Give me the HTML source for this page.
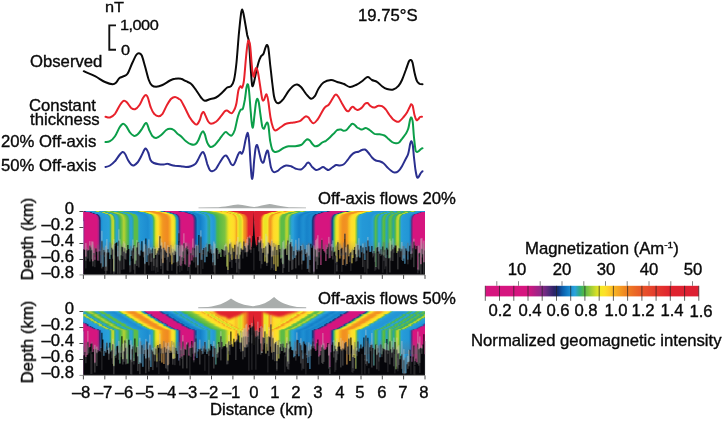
<!DOCTYPE html>
<html><head><meta charset="utf-8"><title>Figure</title>
<style>
html,body{margin:0;padding:0;background:#fff;}
body{width:724px;height:421px;position:relative;overflow:hidden;font-family:"Liberation Sans",sans-serif;}
.t{position:absolute;font-size:16px;line-height:18px;color:#0a0a0a;-webkit-text-stroke:0.35px #0a0a0a;white-space:nowrap;will-change:transform;}
.r{text-align:right}.c{text-align:center}
.rot{transform:rotate(-90deg);transform-origin:50% 50%;}
</style></head><body>
<svg width="724" height="421" viewBox="0 0 724 421" style="position:absolute;left:0;top:0">
<defs><linearGradient id="gl" gradientUnits="userSpaceOnUse" x1="23.4" x2="254.2" y1="0" y2="0"><stop offset="0.0000" stop-color="#4E2A78"/><stop offset="0.0065" stop-color="#4E2A78"/><stop offset="0.0130" stop-color="#4E2A78"/><stop offset="0.0195" stop-color="#4E2A78"/><stop offset="0.0260" stop-color="#4E2A78"/><stop offset="0.0325" stop-color="#4E2A78"/><stop offset="0.0390" stop-color="#4E2A78"/><stop offset="0.0455" stop-color="#4E2A78"/><stop offset="0.0520" stop-color="#4E2A78"/><stop offset="0.0585" stop-color="#4E2A78"/><stop offset="0.0650" stop-color="#4E2A78"/><stop offset="0.0715" stop-color="#4E2A78"/><stop offset="0.0780" stop-color="#4E2A78"/><stop offset="0.0845" stop-color="#4E2A78"/><stop offset="0.0910" stop-color="#4E2A78"/><stop offset="0.0975" stop-color="#4E2A78"/><stop offset="0.1040" stop-color="#4E2A78"/><stop offset="0.1105" stop-color="#4E2A78"/><stop offset="0.1170" stop-color="#4E2A78"/><stop offset="0.1235" stop-color="#4E2A78"/><stop offset="0.1300" stop-color="#4E2A78"/><stop offset="0.1365" stop-color="#4E2A78"/><stop offset="0.1430" stop-color="#4E2A78"/><stop offset="0.1495" stop-color="#4E2A78"/><stop offset="0.1560" stop-color="#4E2A78"/><stop offset="0.1625" stop-color="#4E2A78"/><stop offset="0.1690" stop-color="#4E2A78"/><stop offset="0.1755" stop-color="#4E2A78"/><stop offset="0.1820" stop-color="#4E2A78"/><stop offset="0.1885" stop-color="#4E2A78"/><stop offset="0.1950" stop-color="#4E2A78"/><stop offset="0.2015" stop-color="#4E2A78"/><stop offset="0.2080" stop-color="#4E2A78"/><stop offset="0.2145" stop-color="#4E2A78"/><stop offset="0.2210" stop-color="#4E2A78"/><stop offset="0.2275" stop-color="#4E2A78"/><stop offset="0.2340" stop-color="#4E2A78"/><stop offset="0.2405" stop-color="#4E2A78"/><stop offset="0.2470" stop-color="#4E2A78"/><stop offset="0.2535" stop-color="#4E2A78"/><stop offset="0.2600" stop-color="#772A83"/><stop offset="0.2665" stop-color="#D6157F"/><stop offset="0.2730" stop-color="#D6157F"/><stop offset="0.2795" stop-color="#D6157F"/><stop offset="0.2860" stop-color="#D6157F"/><stop offset="0.2925" stop-color="#D6157F"/><stop offset="0.2990" stop-color="#D6157F"/><stop offset="0.3055" stop-color="#D6157F"/><stop offset="0.3120" stop-color="#D6157F"/><stop offset="0.3185" stop-color="#D6157F"/><stop offset="0.3250" stop-color="#AD2085"/><stop offset="0.3315" stop-color="#232162"/><stop offset="0.3380" stop-color="#1E8FD2"/><stop offset="0.3445" stop-color="#259AD8"/><stop offset="0.3510" stop-color="#269CD8"/><stop offset="0.3575" stop-color="#279DD9"/><stop offset="0.3640" stop-color="#289FDA"/><stop offset="0.3705" stop-color="#29A0DB"/><stop offset="0.3769" stop-color="#2EA799"/><stop offset="0.3834" stop-color="#B1D333"/><stop offset="0.3899" stop-color="#C7DA2C"/><stop offset="0.3964" stop-color="#36AC7A"/><stop offset="0.4029" stop-color="#2CA4CE"/><stop offset="0.4094" stop-color="#2CA4C4"/><stop offset="0.4159" stop-color="#37AC78"/><stop offset="0.4224" stop-color="#5ABB46"/><stop offset="0.4289" stop-color="#89C53F"/><stop offset="0.4354" stop-color="#B7D531"/><stop offset="0.4419" stop-color="#8FC73E"/><stop offset="0.4484" stop-color="#66BD44"/><stop offset="0.4549" stop-color="#45B45A"/><stop offset="0.4614" stop-color="#2CA4CC"/><stop offset="0.4679" stop-color="#2CA4D2"/><stop offset="0.4744" stop-color="#2DA6A9"/><stop offset="0.4809" stop-color="#5DBC46"/><stop offset="0.4874" stop-color="#5DBC46"/><stop offset="0.4939" stop-color="#5DBC46"/><stop offset="0.5004" stop-color="#2CA5C1"/><stop offset="0.5069" stop-color="#2498D6"/><stop offset="0.5134" stop-color="#2296D5"/><stop offset="0.5199" stop-color="#2193D4"/><stop offset="0.5264" stop-color="#1F91D3"/><stop offset="0.5329" stop-color="#1E8FD2"/><stop offset="0.5394" stop-color="#1C8CD0"/><stop offset="0.5459" stop-color="#2194D4"/><stop offset="0.5524" stop-color="#269CD8"/><stop offset="0.5589" stop-color="#2CA4C7"/><stop offset="0.5654" stop-color="#56BA47"/><stop offset="0.5719" stop-color="#C9DB2B"/><stop offset="0.5784" stop-color="#F7E625"/><stop offset="0.5849" stop-color="#FFDD2B"/><stop offset="0.5914" stop-color="#FBC125"/><stop offset="0.5979" stop-color="#F6AA22"/><stop offset="0.6044" stop-color="#F29621"/><stop offset="0.6109" stop-color="#F19121"/><stop offset="0.6174" stop-color="#F18D21"/><stop offset="0.6239" stop-color="#F08A22"/><stop offset="0.6304" stop-color="#F39921"/><stop offset="0.6369" stop-color="#F9B423"/><stop offset="0.6434" stop-color="#FDDF2A"/><stop offset="0.6499" stop-color="#FAE327"/><stop offset="0.6564" stop-color="#D7DF29"/><stop offset="0.6629" stop-color="#2EA79C"/><stop offset="0.6694" stop-color="#1784CB"/><stop offset="0.6759" stop-color="#542A79"/><stop offset="0.6824" stop-color="#CA1881"/><stop offset="0.6889" stop-color="#D6157F"/><stop offset="0.6954" stop-color="#D6157F"/><stop offset="0.7019" stop-color="#D6157F"/><stop offset="0.7084" stop-color="#D6157F"/><stop offset="0.7149" stop-color="#D6157F"/><stop offset="0.7214" stop-color="#D6157F"/><stop offset="0.7279" stop-color="#D6157F"/><stop offset="0.7344" stop-color="#D6157F"/><stop offset="0.7409" stop-color="#682A7F"/><stop offset="0.7474" stop-color="#0C4C9A"/><stop offset="0.7539" stop-color="#1885CB"/><stop offset="0.7604" stop-color="#1581C8"/><stop offset="0.7669" stop-color="#147FC8"/><stop offset="0.7734" stop-color="#1987CD"/><stop offset="0.7799" stop-color="#1E8ED2"/><stop offset="0.7864" stop-color="#2397D6"/><stop offset="0.7929" stop-color="#2AA1DB"/><stop offset="0.7994" stop-color="#2DA6AB"/><stop offset="0.8059" stop-color="#2FA88A"/><stop offset="0.8124" stop-color="#2BA2DC"/><stop offset="0.8189" stop-color="#279ED9"/><stop offset="0.8254" stop-color="#2599D7"/><stop offset="0.8319" stop-color="#2DA5B4"/><stop offset="0.8384" stop-color="#45B459"/><stop offset="0.8449" stop-color="#4EB848"/><stop offset="0.8514" stop-color="#5CBB46"/><stop offset="0.8579" stop-color="#66BD44"/><stop offset="0.8644" stop-color="#6FC043"/><stop offset="0.8709" stop-color="#78C242"/><stop offset="0.8774" stop-color="#98CA3B"/><stop offset="0.8839" stop-color="#C8DB2B"/><stop offset="0.8904" stop-color="#F0E725"/><stop offset="0.8969" stop-color="#F9E327"/><stop offset="0.9034" stop-color="#FDE029"/><stop offset="0.9099" stop-color="#FFDB2A"/><stop offset="0.9164" stop-color="#FDD129"/><stop offset="0.9229" stop-color="#F5A422"/><stop offset="0.9294" stop-color="#FAE228"/><stop offset="0.9359" stop-color="#D4DE29"/><stop offset="0.9424" stop-color="#D4DE29"/><stop offset="0.9489" stop-color="#FDE029"/><stop offset="0.9554" stop-color="#F39921"/><stop offset="0.9619" stop-color="#F08722"/><stop offset="0.9684" stop-color="#E95E28"/><stop offset="0.9749" stop-color="#E0232F"/><stop offset="0.9814" stop-color="#DE2131"/><stop offset="0.9879" stop-color="#DE2131"/><stop offset="0.9944" stop-color="#DD2132"/><stop offset="1.0000" stop-color="#DD2032"/></linearGradient>
<linearGradient id="gr" gradientUnits="userSpaceOnUse" x1="254.2" x2="485.0" y1="0" y2="0"><stop offset="0.0000" stop-color="#DD2032"/><stop offset="0.0065" stop-color="#DD2132"/><stop offset="0.0130" stop-color="#DE2131"/><stop offset="0.0195" stop-color="#DE2131"/><stop offset="0.0260" stop-color="#E22F2E"/><stop offset="0.0325" stop-color="#F08922"/><stop offset="0.0390" stop-color="#FAE228"/><stop offset="0.0455" stop-color="#EAE526"/><stop offset="0.0520" stop-color="#EAE526"/><stop offset="0.0585" stop-color="#F9E327"/><stop offset="0.0650" stop-color="#F49D21"/><stop offset="0.0715" stop-color="#F39721"/><stop offset="0.0780" stop-color="#FABE25"/><stop offset="0.0845" stop-color="#FFDA2A"/><stop offset="0.0910" stop-color="#FEDE2A"/><stop offset="0.0975" stop-color="#FCE129"/><stop offset="0.1040" stop-color="#F7E625"/><stop offset="0.1105" stop-color="#93C83D"/><stop offset="0.1170" stop-color="#5DBC46"/><stop offset="0.1235" stop-color="#5DBC46"/><stop offset="0.1300" stop-color="#5DBC46"/><stop offset="0.1365" stop-color="#A7CF36"/><stop offset="0.1430" stop-color="#BAD630"/><stop offset="0.1495" stop-color="#70C043"/><stop offset="0.1560" stop-color="#2EA7A0"/><stop offset="0.1625" stop-color="#2CA4D1"/><stop offset="0.1690" stop-color="#29A0DA"/><stop offset="0.1755" stop-color="#2193D4"/><stop offset="0.1820" stop-color="#1C8BD0"/><stop offset="0.1885" stop-color="#1784CB"/><stop offset="0.1950" stop-color="#147EC7"/><stop offset="0.2015" stop-color="#1886CC"/><stop offset="0.2080" stop-color="#1D8DD1"/><stop offset="0.2145" stop-color="#1E8FD2"/><stop offset="0.2210" stop-color="#1A89CE"/><stop offset="0.2275" stop-color="#1783CA"/><stop offset="0.2340" stop-color="#1885CC"/><stop offset="0.2405" stop-color="#1A89CE"/><stop offset="0.2470" stop-color="#1A89CE"/><stop offset="0.2535" stop-color="#153074"/><stop offset="0.2600" stop-color="#722A82"/><stop offset="0.2665" stop-color="#D6157F"/><stop offset="0.2730" stop-color="#D6157F"/><stop offset="0.2795" stop-color="#D6157F"/><stop offset="0.2860" stop-color="#D6157F"/><stop offset="0.2925" stop-color="#D6157F"/><stop offset="0.2990" stop-color="#D6157F"/><stop offset="0.3055" stop-color="#D6157F"/><stop offset="0.3120" stop-color="#D6157F"/><stop offset="0.3185" stop-color="#D6157F"/><stop offset="0.3250" stop-color="#D6157F"/><stop offset="0.3315" stop-color="#A12386"/><stop offset="0.3380" stop-color="#103F89"/><stop offset="0.3445" stop-color="#39AD74"/><stop offset="0.3510" stop-color="#BAD630"/><stop offset="0.3575" stop-color="#F7E625"/><stop offset="0.3640" stop-color="#FED82A"/><stop offset="0.3705" stop-color="#F8B123"/><stop offset="0.3769" stop-color="#F4A021"/><stop offset="0.3834" stop-color="#F29121"/><stop offset="0.3899" stop-color="#F19021"/><stop offset="0.3964" stop-color="#F29221"/><stop offset="0.4029" stop-color="#F39921"/><stop offset="0.4094" stop-color="#FABC24"/><stop offset="0.4159" stop-color="#FDD229"/><stop offset="0.4224" stop-color="#FEDF2A"/><stop offset="0.4289" stop-color="#FBE228"/><stop offset="0.4354" stop-color="#F8E526"/><stop offset="0.4419" stop-color="#9BCB3A"/><stop offset="0.4484" stop-color="#2DA6AB"/><stop offset="0.4549" stop-color="#2AA2DB"/><stop offset="0.4614" stop-color="#279DD9"/><stop offset="0.4679" stop-color="#2599D7"/><stop offset="0.4744" stop-color="#2498D7"/><stop offset="0.4809" stop-color="#2497D6"/><stop offset="0.4874" stop-color="#2397D6"/><stop offset="0.4939" stop-color="#2396D5"/><stop offset="0.5004" stop-color="#2295D5"/><stop offset="0.5069" stop-color="#2599D7"/><stop offset="0.5134" stop-color="#289FDA"/><stop offset="0.5199" stop-color="#2FA891"/><stop offset="0.5264" stop-color="#5DBC46"/><stop offset="0.5329" stop-color="#36AC7A"/><stop offset="0.5394" stop-color="#2BA3D6"/><stop offset="0.5459" stop-color="#2BA3DC"/><stop offset="0.5524" stop-color="#2FA891"/><stop offset="0.5589" stop-color="#5DBC46"/><stop offset="0.5654" stop-color="#50B948"/><stop offset="0.5719" stop-color="#2DA5BB"/><stop offset="0.5784" stop-color="#2FA792"/><stop offset="0.5849" stop-color="#5DBB46"/><stop offset="0.5914" stop-color="#63BD45"/><stop offset="0.5979" stop-color="#3BAE70"/><stop offset="0.6044" stop-color="#2EA79A"/><stop offset="0.6109" stop-color="#4CB849"/><stop offset="0.6174" stop-color="#AED234"/><stop offset="0.6239" stop-color="#C4D92D"/><stop offset="0.6304" stop-color="#45B45A"/><stop offset="0.6369" stop-color="#2AA1DB"/><stop offset="0.6434" stop-color="#269CD9"/><stop offset="0.6499" stop-color="#259AD8"/><stop offset="0.6564" stop-color="#2499D7"/><stop offset="0.6629" stop-color="#2397D6"/><stop offset="0.6694" stop-color="#2296D5"/><stop offset="0.6759" stop-color="#1581C9"/><stop offset="0.6824" stop-color="#662A7E"/><stop offset="0.6889" stop-color="#D6157F"/><stop offset="0.6954" stop-color="#D6157F"/><stop offset="0.7019" stop-color="#D6157F"/><stop offset="0.7084" stop-color="#D6157F"/><stop offset="0.7149" stop-color="#D6157F"/><stop offset="0.7214" stop-color="#D6157F"/><stop offset="0.7279" stop-color="#D6157F"/><stop offset="0.7344" stop-color="#D6157F"/><stop offset="0.7409" stop-color="#D6157F"/><stop offset="0.7474" stop-color="#D6157F"/><stop offset="0.7539" stop-color="#D6157F"/><stop offset="0.7604" stop-color="#D6157F"/><stop offset="0.7669" stop-color="#D6157F"/><stop offset="0.7734" stop-color="#D6157F"/><stop offset="0.7799" stop-color="#D6157F"/><stop offset="0.7864" stop-color="#D6157F"/><stop offset="0.7929" stop-color="#D6157F"/><stop offset="0.7994" stop-color="#D6157F"/><stop offset="0.8059" stop-color="#D6157F"/><stop offset="0.8124" stop-color="#D6157F"/><stop offset="0.8189" stop-color="#D6157F"/><stop offset="0.8254" stop-color="#D6157F"/><stop offset="0.8319" stop-color="#D6157F"/><stop offset="0.8384" stop-color="#D6157F"/><stop offset="0.8449" stop-color="#D6157F"/><stop offset="0.8514" stop-color="#D6157F"/><stop offset="0.8579" stop-color="#D6157F"/><stop offset="0.8644" stop-color="#D6157F"/><stop offset="0.8709" stop-color="#D6157F"/><stop offset="0.8774" stop-color="#D6157F"/><stop offset="0.8839" stop-color="#D6157F"/><stop offset="0.8904" stop-color="#D6157F"/><stop offset="0.8969" stop-color="#D6157F"/><stop offset="0.9034" stop-color="#D6157F"/><stop offset="0.9099" stop-color="#D6157F"/><stop offset="0.9164" stop-color="#D6157F"/><stop offset="0.9229" stop-color="#D6157F"/><stop offset="0.9294" stop-color="#D6157F"/><stop offset="0.9359" stop-color="#D6157F"/><stop offset="0.9424" stop-color="#D6157F"/><stop offset="0.9489" stop-color="#D6157F"/><stop offset="0.9554" stop-color="#D6157F"/><stop offset="0.9619" stop-color="#D6157F"/><stop offset="0.9684" stop-color="#D6157F"/><stop offset="0.9749" stop-color="#D6157F"/><stop offset="0.9814" stop-color="#D6157F"/><stop offset="0.9879" stop-color="#D6157F"/><stop offset="0.9944" stop-color="#D6157F"/><stop offset="1.0000" stop-color="#D6157F"/></linearGradient>
<linearGradient id="hl" gradientUnits="userSpaceOnUse" x1="23.4" x2="254.2" y1="0" y2="0"><stop offset="0.0000" stop-color="#4E2A78"/><stop offset="0.0065" stop-color="#4E2A78"/><stop offset="0.0130" stop-color="#4E2A78"/><stop offset="0.0195" stop-color="#4E2A78"/><stop offset="0.0260" stop-color="#4E2A78"/><stop offset="0.0325" stop-color="#4E2A78"/><stop offset="0.0390" stop-color="#4E2A78"/><stop offset="0.0455" stop-color="#4E2A78"/><stop offset="0.0520" stop-color="#4E2A78"/><stop offset="0.0585" stop-color="#4E2A78"/><stop offset="0.0650" stop-color="#4E2A78"/><stop offset="0.0715" stop-color="#4E2A78"/><stop offset="0.0780" stop-color="#4E2A78"/><stop offset="0.0845" stop-color="#4E2A78"/><stop offset="0.0910" stop-color="#4E2A78"/><stop offset="0.0975" stop-color="#4E2A78"/><stop offset="0.1040" stop-color="#4E2A78"/><stop offset="0.1105" stop-color="#4E2A78"/><stop offset="0.1170" stop-color="#4E2A78"/><stop offset="0.1235" stop-color="#4E2A78"/><stop offset="0.1300" stop-color="#4E2A78"/><stop offset="0.1365" stop-color="#4E2A78"/><stop offset="0.1430" stop-color="#4E2A78"/><stop offset="0.1495" stop-color="#4E2A78"/><stop offset="0.1560" stop-color="#4E2A78"/><stop offset="0.1625" stop-color="#4E2A78"/><stop offset="0.1690" stop-color="#4E2A78"/><stop offset="0.1755" stop-color="#4E2A78"/><stop offset="0.1820" stop-color="#4E2A78"/><stop offset="0.1885" stop-color="#4E2A78"/><stop offset="0.1950" stop-color="#4E2A78"/><stop offset="0.2015" stop-color="#4E2A78"/><stop offset="0.2080" stop-color="#4E2A78"/><stop offset="0.2145" stop-color="#4E2A78"/><stop offset="0.2210" stop-color="#4E2A78"/><stop offset="0.2275" stop-color="#4E2A78"/><stop offset="0.2340" stop-color="#4E2A78"/><stop offset="0.2405" stop-color="#4E2A78"/><stop offset="0.2470" stop-color="#4E2A78"/><stop offset="0.2535" stop-color="#4E2A78"/><stop offset="0.2600" stop-color="#772A83"/><stop offset="0.2665" stop-color="#D6157F"/><stop offset="0.2730" stop-color="#D6157F"/><stop offset="0.2795" stop-color="#D6157F"/><stop offset="0.2860" stop-color="#D6157F"/><stop offset="0.2925" stop-color="#D6157F"/><stop offset="0.2990" stop-color="#D6157F"/><stop offset="0.3055" stop-color="#D6157F"/><stop offset="0.3120" stop-color="#D6157F"/><stop offset="0.3185" stop-color="#D6157F"/><stop offset="0.3250" stop-color="#AD2085"/><stop offset="0.3315" stop-color="#232162"/><stop offset="0.3380" stop-color="#1E8FD2"/><stop offset="0.3445" stop-color="#259AD8"/><stop offset="0.3510" stop-color="#269CD8"/><stop offset="0.3575" stop-color="#279DD9"/><stop offset="0.3640" stop-color="#289FDA"/><stop offset="0.3705" stop-color="#29A0DB"/><stop offset="0.3769" stop-color="#2EA799"/><stop offset="0.3834" stop-color="#B1D333"/><stop offset="0.3899" stop-color="#C7DA2C"/><stop offset="0.3964" stop-color="#36AC7A"/><stop offset="0.4029" stop-color="#2CA4CE"/><stop offset="0.4094" stop-color="#2CA4C4"/><stop offset="0.4159" stop-color="#37AC78"/><stop offset="0.4224" stop-color="#5ABB46"/><stop offset="0.4289" stop-color="#89C53F"/><stop offset="0.4354" stop-color="#B7D531"/><stop offset="0.4419" stop-color="#8FC73E"/><stop offset="0.4484" stop-color="#66BD44"/><stop offset="0.4549" stop-color="#45B45A"/><stop offset="0.4614" stop-color="#2CA4CC"/><stop offset="0.4679" stop-color="#2CA4D2"/><stop offset="0.4744" stop-color="#2DA6A9"/><stop offset="0.4809" stop-color="#5DBC46"/><stop offset="0.4874" stop-color="#5DBC46"/><stop offset="0.4939" stop-color="#5DBC46"/><stop offset="0.5004" stop-color="#2CA5C1"/><stop offset="0.5069" stop-color="#2498D6"/><stop offset="0.5134" stop-color="#2296D5"/><stop offset="0.5199" stop-color="#2193D4"/><stop offset="0.5264" stop-color="#1F91D3"/><stop offset="0.5329" stop-color="#1E8FD2"/><stop offset="0.5394" stop-color="#1C8CD0"/><stop offset="0.5459" stop-color="#2194D4"/><stop offset="0.5524" stop-color="#269CD8"/><stop offset="0.5589" stop-color="#2CA4C7"/><stop offset="0.5654" stop-color="#56BA47"/><stop offset="0.5719" stop-color="#C9DB2B"/><stop offset="0.5784" stop-color="#F7E625"/><stop offset="0.5849" stop-color="#FFDD2B"/><stop offset="0.5914" stop-color="#FBC125"/><stop offset="0.5979" stop-color="#F6AA22"/><stop offset="0.6044" stop-color="#F29621"/><stop offset="0.6109" stop-color="#F19121"/><stop offset="0.6174" stop-color="#F18D21"/><stop offset="0.6239" stop-color="#F08A22"/><stop offset="0.6304" stop-color="#F39921"/><stop offset="0.6369" stop-color="#F9B423"/><stop offset="0.6434" stop-color="#FDDF2A"/><stop offset="0.6499" stop-color="#FAE327"/><stop offset="0.6564" stop-color="#D7DF29"/><stop offset="0.6629" stop-color="#2EA79C"/><stop offset="0.6694" stop-color="#1784CB"/><stop offset="0.6759" stop-color="#542A79"/><stop offset="0.6824" stop-color="#CA1881"/><stop offset="0.6889" stop-color="#D6157F"/><stop offset="0.6954" stop-color="#D6157F"/><stop offset="0.7019" stop-color="#D6157F"/><stop offset="0.7084" stop-color="#D6157F"/><stop offset="0.7149" stop-color="#D6157F"/><stop offset="0.7214" stop-color="#D6157F"/><stop offset="0.7279" stop-color="#D6157F"/><stop offset="0.7344" stop-color="#D6157F"/><stop offset="0.7409" stop-color="#682A7F"/><stop offset="0.7474" stop-color="#0C4C9A"/><stop offset="0.7539" stop-color="#1885CB"/><stop offset="0.7604" stop-color="#1581C8"/><stop offset="0.7669" stop-color="#147FC8"/><stop offset="0.7734" stop-color="#1987CD"/><stop offset="0.7799" stop-color="#1E8ED2"/><stop offset="0.7864" stop-color="#2397D6"/><stop offset="0.7929" stop-color="#2AA1DB"/><stop offset="0.7994" stop-color="#2DA6AB"/><stop offset="0.8059" stop-color="#2FA88A"/><stop offset="0.8124" stop-color="#2BA2DC"/><stop offset="0.8189" stop-color="#279ED9"/><stop offset="0.8254" stop-color="#2599D7"/><stop offset="0.8319" stop-color="#2DA5B4"/><stop offset="0.8384" stop-color="#45B459"/><stop offset="0.8449" stop-color="#4EB848"/><stop offset="0.8514" stop-color="#5CBB46"/><stop offset="0.8579" stop-color="#66BD44"/><stop offset="0.8644" stop-color="#6FC043"/><stop offset="0.8709" stop-color="#78C242"/><stop offset="0.8774" stop-color="#98CA3B"/><stop offset="0.8839" stop-color="#C8DB2B"/><stop offset="0.8904" stop-color="#F0E725"/><stop offset="0.8969" stop-color="#F9E327"/><stop offset="0.9034" stop-color="#FDE029"/><stop offset="0.9099" stop-color="#FFDB2A"/><stop offset="0.9164" stop-color="#FDD129"/><stop offset="0.9229" stop-color="#F5A422"/><stop offset="0.9294" stop-color="#FAE228"/><stop offset="0.9359" stop-color="#D4DE29"/><stop offset="0.9424" stop-color="#D4DE29"/><stop offset="0.9489" stop-color="#FDE029" stop-opacity="0.94"/><stop offset="0.9554" stop-color="#F39921" stop-opacity="0.51"/><stop offset="0.9619" stop-color="#F08722" stop-opacity="0.09"/><stop offset="0.9684" stop-color="#E95E28" stop-opacity="0.00"/><stop offset="0.9749" stop-color="#E0232F" stop-opacity="0.00"/><stop offset="0.9814" stop-color="#DE2131" stop-opacity="0.00"/><stop offset="0.9879" stop-color="#DE2131" stop-opacity="0.00"/><stop offset="0.9944" stop-color="#DD2132" stop-opacity="0.00"/><stop offset="1.0000" stop-color="#DD2032" stop-opacity="0.00"/></linearGradient>
<linearGradient id="hr" gradientUnits="userSpaceOnUse" x1="254.2" x2="485.0" y1="0" y2="0"><stop offset="0.0000" stop-color="#DD2032" stop-opacity="0.00"/><stop offset="0.0065" stop-color="#DD2132" stop-opacity="0.00"/><stop offset="0.0130" stop-color="#DE2131" stop-opacity="0.00"/><stop offset="0.0195" stop-color="#DE2131" stop-opacity="0.00"/><stop offset="0.0260" stop-color="#E22F2E" stop-opacity="0.00"/><stop offset="0.0325" stop-color="#F08922" stop-opacity="0.00"/><stop offset="0.0390" stop-color="#FAE228" stop-opacity="0.14"/><stop offset="0.0455" stop-color="#EAE526" stop-opacity="0.57"/><stop offset="0.0520" stop-color="#EAE526"/><stop offset="0.0585" stop-color="#F9E327"/><stop offset="0.0650" stop-color="#F49D21"/><stop offset="0.0715" stop-color="#F39721"/><stop offset="0.0780" stop-color="#FABE25"/><stop offset="0.0845" stop-color="#FFDA2A"/><stop offset="0.0910" stop-color="#FEDE2A"/><stop offset="0.0975" stop-color="#FCE129"/><stop offset="0.1040" stop-color="#F7E625"/><stop offset="0.1105" stop-color="#93C83D"/><stop offset="0.1170" stop-color="#5DBC46"/><stop offset="0.1235" stop-color="#5DBC46"/><stop offset="0.1300" stop-color="#5DBC46"/><stop offset="0.1365" stop-color="#A7CF36"/><stop offset="0.1430" stop-color="#BAD630"/><stop offset="0.1495" stop-color="#70C043"/><stop offset="0.1560" stop-color="#2EA7A0"/><stop offset="0.1625" stop-color="#2CA4D1"/><stop offset="0.1690" stop-color="#29A0DA"/><stop offset="0.1755" stop-color="#2193D4"/><stop offset="0.1820" stop-color="#1C8BD0"/><stop offset="0.1885" stop-color="#1784CB"/><stop offset="0.1950" stop-color="#147EC7"/><stop offset="0.2015" stop-color="#1886CC"/><stop offset="0.2080" stop-color="#1D8DD1"/><stop offset="0.2145" stop-color="#1E8FD2"/><stop offset="0.2210" stop-color="#1A89CE"/><stop offset="0.2275" stop-color="#1783CA"/><stop offset="0.2340" stop-color="#1885CC"/><stop offset="0.2405" stop-color="#1A89CE"/><stop offset="0.2470" stop-color="#1A89CE"/><stop offset="0.2535" stop-color="#153074"/><stop offset="0.2600" stop-color="#722A82"/><stop offset="0.2665" stop-color="#D6157F"/><stop offset="0.2730" stop-color="#D6157F"/><stop offset="0.2795" stop-color="#D6157F"/><stop offset="0.2860" stop-color="#D6157F"/><stop offset="0.2925" stop-color="#D6157F"/><stop offset="0.2990" stop-color="#D6157F"/><stop offset="0.3055" stop-color="#D6157F"/><stop offset="0.3120" stop-color="#D6157F"/><stop offset="0.3185" stop-color="#D6157F"/><stop offset="0.3250" stop-color="#D6157F"/><stop offset="0.3315" stop-color="#A12386"/><stop offset="0.3380" stop-color="#103F89"/><stop offset="0.3445" stop-color="#39AD74"/><stop offset="0.3510" stop-color="#BAD630"/><stop offset="0.3575" stop-color="#F7E625"/><stop offset="0.3640" stop-color="#FED82A"/><stop offset="0.3705" stop-color="#F8B123"/><stop offset="0.3769" stop-color="#F4A021"/><stop offset="0.3834" stop-color="#F29121"/><stop offset="0.3899" stop-color="#F19021"/><stop offset="0.3964" stop-color="#F29221"/><stop offset="0.4029" stop-color="#F39921"/><stop offset="0.4094" stop-color="#FABC24"/><stop offset="0.4159" stop-color="#FDD229"/><stop offset="0.4224" stop-color="#FEDF2A"/><stop offset="0.4289" stop-color="#FBE228"/><stop offset="0.4354" stop-color="#F8E526"/><stop offset="0.4419" stop-color="#9BCB3A"/><stop offset="0.4484" stop-color="#2DA6AB"/><stop offset="0.4549" stop-color="#2AA2DB"/><stop offset="0.4614" stop-color="#279DD9"/><stop offset="0.4679" stop-color="#2599D7"/><stop offset="0.4744" stop-color="#2498D7"/><stop offset="0.4809" stop-color="#2497D6"/><stop offset="0.4874" stop-color="#2397D6"/><stop offset="0.4939" stop-color="#2396D5"/><stop offset="0.5004" stop-color="#2295D5"/><stop offset="0.5069" stop-color="#2599D7"/><stop offset="0.5134" stop-color="#289FDA"/><stop offset="0.5199" stop-color="#2FA891"/><stop offset="0.5264" stop-color="#5DBC46"/><stop offset="0.5329" stop-color="#36AC7A"/><stop offset="0.5394" stop-color="#2BA3D6"/><stop offset="0.5459" stop-color="#2BA3DC"/><stop offset="0.5524" stop-color="#2FA891"/><stop offset="0.5589" stop-color="#5DBC46"/><stop offset="0.5654" stop-color="#50B948"/><stop offset="0.5719" stop-color="#2DA5BB"/><stop offset="0.5784" stop-color="#2FA792"/><stop offset="0.5849" stop-color="#5DBB46"/><stop offset="0.5914" stop-color="#63BD45"/><stop offset="0.5979" stop-color="#3BAE70"/><stop offset="0.6044" stop-color="#2EA79A"/><stop offset="0.6109" stop-color="#4CB849"/><stop offset="0.6174" stop-color="#AED234"/><stop offset="0.6239" stop-color="#C4D92D"/><stop offset="0.6304" stop-color="#45B45A"/><stop offset="0.6369" stop-color="#2AA1DB"/><stop offset="0.6434" stop-color="#269CD9"/><stop offset="0.6499" stop-color="#259AD8"/><stop offset="0.6564" stop-color="#2499D7"/><stop offset="0.6629" stop-color="#2397D6"/><stop offset="0.6694" stop-color="#2296D5"/><stop offset="0.6759" stop-color="#1581C9"/><stop offset="0.6824" stop-color="#662A7E"/><stop offset="0.6889" stop-color="#D6157F"/><stop offset="0.6954" stop-color="#D6157F"/><stop offset="0.7019" stop-color="#D6157F"/><stop offset="0.7084" stop-color="#D6157F"/><stop offset="0.7149" stop-color="#D6157F"/><stop offset="0.7214" stop-color="#D6157F"/><stop offset="0.7279" stop-color="#D6157F"/><stop offset="0.7344" stop-color="#D6157F"/><stop offset="0.7409" stop-color="#D6157F"/><stop offset="0.7474" stop-color="#D6157F"/><stop offset="0.7539" stop-color="#D6157F"/><stop offset="0.7604" stop-color="#D6157F"/><stop offset="0.7669" stop-color="#D6157F"/><stop offset="0.7734" stop-color="#D6157F"/><stop offset="0.7799" stop-color="#D6157F"/><stop offset="0.7864" stop-color="#D6157F"/><stop offset="0.7929" stop-color="#D6157F"/><stop offset="0.7994" stop-color="#D6157F"/><stop offset="0.8059" stop-color="#D6157F"/><stop offset="0.8124" stop-color="#D6157F"/><stop offset="0.8189" stop-color="#D6157F"/><stop offset="0.8254" stop-color="#D6157F"/><stop offset="0.8319" stop-color="#D6157F"/><stop offset="0.8384" stop-color="#D6157F"/><stop offset="0.8449" stop-color="#D6157F"/><stop offset="0.8514" stop-color="#D6157F"/><stop offset="0.8579" stop-color="#D6157F"/><stop offset="0.8644" stop-color="#D6157F"/><stop offset="0.8709" stop-color="#D6157F"/><stop offset="0.8774" stop-color="#D6157F"/><stop offset="0.8839" stop-color="#D6157F"/><stop offset="0.8904" stop-color="#D6157F"/><stop offset="0.8969" stop-color="#D6157F"/><stop offset="0.9034" stop-color="#D6157F"/><stop offset="0.9099" stop-color="#D6157F"/><stop offset="0.9164" stop-color="#D6157F"/><stop offset="0.9229" stop-color="#D6157F"/><stop offset="0.9294" stop-color="#D6157F"/><stop offset="0.9359" stop-color="#D6157F"/><stop offset="0.9424" stop-color="#D6157F"/><stop offset="0.9489" stop-color="#D6157F"/><stop offset="0.9554" stop-color="#D6157F"/><stop offset="0.9619" stop-color="#D6157F"/><stop offset="0.9684" stop-color="#D6157F"/><stop offset="0.9749" stop-color="#D6157F"/><stop offset="0.9814" stop-color="#D6157F"/><stop offset="0.9879" stop-color="#D6157F"/><stop offset="0.9944" stop-color="#D6157F"/><stop offset="1.0000" stop-color="#D6157F"/></linearGradient>
<linearGradient id="kl" gradientUnits="userSpaceOnUse" x1="204.2" x2="254.2" y1="0" y2="0"><stop offset="0.0000" stop-color="#FDCD28"/><stop offset="0.0300" stop-color="#FDCD28"/><stop offset="0.0600" stop-color="#FDCD28"/><stop offset="0.0900" stop-color="#FDCD28"/><stop offset="0.1200" stop-color="#FDCD28"/><stop offset="0.1500" stop-color="#FDCD28"/><stop offset="0.1800" stop-color="#FDCD28"/><stop offset="0.2100" stop-color="#FDCD28"/><stop offset="0.2400" stop-color="#FDCD28"/><stop offset="0.2700" stop-color="#FDCD28"/><stop offset="0.3000" stop-color="#FDCD28"/><stop offset="0.3300" stop-color="#FDCD28"/><stop offset="0.3600" stop-color="#FDCD28"/><stop offset="0.3900" stop-color="#FDCD28"/><stop offset="0.4200" stop-color="#FDCD28"/><stop offset="0.4500" stop-color="#FDCD28"/><stop offset="0.4800" stop-color="#FFDD2B"/><stop offset="0.5100" stop-color="#FCE029"/><stop offset="0.5400" stop-color="#FBE128"/><stop offset="0.5700" stop-color="#FEDE2B"/><stop offset="0.6000" stop-color="#FED629"/><stop offset="0.6300" stop-color="#FBC226"/><stop offset="0.6600" stop-color="#FCC827"/><stop offset="0.6900" stop-color="#E3E327"/><stop offset="0.7200" stop-color="#D4DE29"/><stop offset="0.7500" stop-color="#E3E327"/><stop offset="0.7800" stop-color="#F9B924"/><stop offset="0.8100" stop-color="#F18E21"/><stop offset="0.8400" stop-color="#EE8022"/><stop offset="0.8700" stop-color="#E3352E"/><stop offset="0.9000" stop-color="#DE2131"/><stop offset="0.9300" stop-color="#DE2131"/><stop offset="0.9600" stop-color="#DD2132"/><stop offset="0.9900" stop-color="#DD2032"/><stop offset="1.0000" stop-color="#DD2032"/></linearGradient>
<linearGradient id="kr" gradientUnits="userSpaceOnUse" x1="254.2" x2="304.2" y1="0" y2="0"><stop offset="0.0000" stop-color="#DD2032"/><stop offset="0.0300" stop-color="#DD2132"/><stop offset="0.0600" stop-color="#DE2131"/><stop offset="0.0900" stop-color="#DE2131"/><stop offset="0.1200" stop-color="#E22F2E"/><stop offset="0.1500" stop-color="#F08922"/><stop offset="0.1800" stop-color="#FAE228"/><stop offset="0.2100" stop-color="#EAE526"/><stop offset="0.2400" stop-color="#EAE526"/><stop offset="0.2700" stop-color="#F9E327"/><stop offset="0.3000" stop-color="#F49D21"/><stop offset="0.3300" stop-color="#F39721"/><stop offset="0.3600" stop-color="#FABE25"/><stop offset="0.3900" stop-color="#FFDA2A"/><stop offset="0.4200" stop-color="#FEDE2A"/><stop offset="0.4500" stop-color="#FCE129"/><stop offset="0.4800" stop-color="#FAE228"/><stop offset="0.5100" stop-color="#F7E526"/><stop offset="0.5400" stop-color="#FDCD28"/><stop offset="0.5700" stop-color="#FDCD28"/><stop offset="0.6000" stop-color="#FDCD28"/><stop offset="0.6300" stop-color="#FDCD28"/><stop offset="0.6600" stop-color="#FDCD28"/><stop offset="0.6900" stop-color="#FDCD28"/><stop offset="0.7200" stop-color="#FDCD28"/><stop offset="0.7500" stop-color="#FDCD28"/><stop offset="0.7800" stop-color="#FDCD28"/><stop offset="0.8100" stop-color="#FDCD28"/><stop offset="0.8400" stop-color="#FDCD28"/><stop offset="0.8700" stop-color="#FDCD28"/><stop offset="0.9000" stop-color="#FDCD28"/><stop offset="0.9300" stop-color="#FDCD28"/><stop offset="0.9600" stop-color="#FDCD28"/><stop offset="0.9900" stop-color="#FDCD28"/><stop offset="1.0000" stop-color="#FDCD28"/></linearGradient>
<linearGradient id="a0l" href="#gl" gradientTransform="translate(-15.03 0)"/>
<linearGradient id="a0r" href="#gr" gradientTransform="translate(15.03 0)"/>
<linearGradient id="a1l" href="#gl" gradientTransform="translate(-8.85 0)"/>
<linearGradient id="a1r" href="#gr" gradientTransform="translate(8.85 0)"/>
<linearGradient id="a2l" href="#gl" gradientTransform="translate(-6.09 0)"/>
<linearGradient id="a2r" href="#gr" gradientTransform="translate(6.09 0)"/>
<linearGradient id="a3l" href="#gl" gradientTransform="translate(-2.77 0)"/>
<linearGradient id="a3r" href="#gr" gradientTransform="translate(2.77 0)"/>
<linearGradient id="a4l" href="#gl" gradientTransform="translate(-1.66 0)"/>
<linearGradient id="a4r" href="#gr" gradientTransform="translate(1.66 0)"/>
<linearGradient id="a5l" href="#gl" gradientTransform="translate(-0.94 0)"/>
<linearGradient id="a5r" href="#gr" gradientTransform="translate(0.94 0)"/>
<linearGradient id="a6l" href="#gl" gradientTransform="translate(-0.54 0)"/>
<linearGradient id="a6r" href="#gr" gradientTransform="translate(0.54 0)"/>
<linearGradient id="a7l" href="#gl" gradientTransform="translate(-0.31 0)"/>
<linearGradient id="a7r" href="#gr" gradientTransform="translate(0.31 0)"/>
<linearGradient id="a8l" href="#gl" gradientTransform="translate(-0.18 0)"/>
<linearGradient id="a8r" href="#gr" gradientTransform="translate(0.18 0)"/>
<linearGradient id="af" x1="0" x2="0" y1="0" y2="1"><stop offset="0" stop-color="#6a6a70" stop-opacity="0"/><stop offset="1" stop-color="#6a6a70" stop-opacity="0.4"/></linearGradient>
<linearGradient id="axc" gradientUnits="userSpaceOnUse" x1="244.5" x2="264.5" y1="0" y2="0"><stop offset="0" stop-color="#F39A21" stop-opacity="0"/><stop offset="0.14" stop-color="#E8562A"/><stop offset="0.25" stop-color="#E0242F"/><stop offset="0.8" stop-color="#E0242F"/><stop offset="0.9" stop-color="#E8562A"/><stop offset="1" stop-color="#F39A21" stop-opacity="0"/></linearGradient>
<filter id="bl" x="-10%" y="-30%" width="120%" height="160%"><feGaussianBlur stdDeviation="1.1"/></filter>
<linearGradient id="b0l" href="#hl" gradientTransform="translate(-34.43 0)"/>
<linearGradient id="b0r" href="#hr" gradientTransform="translate(34.43 0)"/>
<linearGradient id="b1l" href="#hl" gradientTransform="translate(-33.13 0)"/>
<linearGradient id="b1r" href="#hr" gradientTransform="translate(33.13 0)"/>
<linearGradient id="b2l" href="#hl" gradientTransform="translate(-31.61 0)"/>
<linearGradient id="b2r" href="#hr" gradientTransform="translate(31.61 0)"/>
<linearGradient id="b3l" href="#hl" gradientTransform="translate(-28.10 0)"/>
<linearGradient id="b3r" href="#hr" gradientTransform="translate(28.10 0)"/>
<linearGradient id="b4l" href="#hl" gradientTransform="translate(-28.00 0)"/>
<linearGradient id="b4r" href="#hr" gradientTransform="translate(28.00 0)"/>
<linearGradient id="b5l" href="#hl" gradientTransform="translate(-26.11 0)"/>
<linearGradient id="b5r" href="#hr" gradientTransform="translate(26.11 0)"/>
<linearGradient id="b6l" href="#hl" gradientTransform="translate(-24.92 0)"/>
<linearGradient id="b6r" href="#hr" gradientTransform="translate(24.92 0)"/>
<linearGradient id="b7l" href="#hl" gradientTransform="translate(-22.37 0)"/>
<linearGradient id="b7r" href="#hr" gradientTransform="translate(22.37 0)"/>
<linearGradient id="b8l" href="#hl" gradientTransform="translate(-20.99 0)"/>
<linearGradient id="b8r" href="#hr" gradientTransform="translate(20.99 0)"/>
<linearGradient id="b9l" href="#hl" gradientTransform="translate(-20.07 0)"/>
<linearGradient id="b9r" href="#hr" gradientTransform="translate(20.07 0)"/>
<linearGradient id="b10l" href="#hl" gradientTransform="translate(-17.87 0)"/>
<linearGradient id="b10r" href="#hr" gradientTransform="translate(17.87 0)"/>
<linearGradient id="b11l" href="#hl" gradientTransform="translate(-16.82 0)"/>
<linearGradient id="b11r" href="#hr" gradientTransform="translate(16.82 0)"/>
<linearGradient id="b12l" href="#hl" gradientTransform="translate(-13.97 0)"/>
<linearGradient id="b12r" href="#hr" gradientTransform="translate(13.97 0)"/>
<linearGradient id="b13l" href="#hl" gradientTransform="translate(-12.34 0)"/>
<linearGradient id="b13r" href="#hr" gradientTransform="translate(12.34 0)"/>
<linearGradient id="b14l" href="#hl" gradientTransform="translate(-12.09 0)"/>
<linearGradient id="b14r" href="#hr" gradientTransform="translate(12.09 0)"/>
<linearGradient id="b15l" href="#hl" gradientTransform="translate(-9.36 0)"/>
<linearGradient id="b15r" href="#hr" gradientTransform="translate(9.36 0)"/>
<linearGradient id="b16l" href="#hl" gradientTransform="translate(-7.46 0)"/>
<linearGradient id="b16r" href="#hr" gradientTransform="translate(7.46 0)"/>
<linearGradient id="b17l" href="#hl" gradientTransform="translate(-5.67 0)"/>
<linearGradient id="b17r" href="#hr" gradientTransform="translate(5.67 0)"/>
<linearGradient id="b18l" href="#hl" gradientTransform="translate(-1.85 0)"/>
<linearGradient id="b18r" href="#hr" gradientTransform="translate(1.85 0)"/>
<linearGradient id="bf" x1="0" x2="0" y1="0" y2="1"><stop offset="0" stop-color="#6a6a70" stop-opacity="0"/><stop offset="1" stop-color="#6a6a70" stop-opacity="0.4"/></linearGradient>
<linearGradient id="cb" x1="0" x2="1" y1="0" y2="0"><stop offset="0.000" stop-color="#D6157F"/><stop offset="0.020" stop-color="#D6157F"/><stop offset="0.040" stop-color="#D6157F"/><stop offset="0.060" stop-color="#D6157F"/><stop offset="0.080" stop-color="#D6157F"/><stop offset="0.100" stop-color="#D6157F"/><stop offset="0.120" stop-color="#D6157F"/><stop offset="0.140" stop-color="#D6157F"/><stop offset="0.160" stop-color="#D6157F"/><stop offset="0.180" stop-color="#D6157F"/><stop offset="0.200" stop-color="#D6157F"/><stop offset="0.220" stop-color="#BF1B83"/><stop offset="0.240" stop-color="#A82186"/><stop offset="0.260" stop-color="#922887"/><stop offset="0.280" stop-color="#722A82"/><stop offset="0.300" stop-color="#4E2A78"/><stop offset="0.320" stop-color="#2F2368"/><stop offset="0.340" stop-color="#162F73"/><stop offset="0.360" stop-color="#0B5AA8"/><stop offset="0.380" stop-color="#0F77C2"/><stop offset="0.400" stop-color="#1E8FD2"/><stop offset="0.420" stop-color="#2BA3DC"/><stop offset="0.440" stop-color="#2FA88A"/><stop offset="0.460" stop-color="#4DB848"/><stop offset="0.480" stop-color="#7CC241"/><stop offset="0.500" stop-color="#AAD035"/><stop offset="0.520" stop-color="#D4DE29"/><stop offset="0.540" stop-color="#F5E824"/><stop offset="0.560" stop-color="#FCE029"/><stop offset="0.580" stop-color="#FDCD28"/><stop offset="0.600" stop-color="#F9B623"/><stop offset="0.620" stop-color="#F5A522"/><stop offset="0.640" stop-color="#F29421"/><stop offset="0.660" stop-color="#EF8322"/><stop offset="0.680" stop-color="#ED7524"/><stop offset="0.700" stop-color="#EB6926"/><stop offset="0.720" stop-color="#E95E28"/><stop offset="0.740" stop-color="#E8532A"/><stop offset="0.760" stop-color="#E64B2B"/><stop offset="0.780" stop-color="#E5432C"/><stop offset="0.800" stop-color="#E43B2D"/><stop offset="0.820" stop-color="#E3342E"/><stop offset="0.840" stop-color="#E22D2E"/><stop offset="0.860" stop-color="#E0262F"/><stop offset="0.880" stop-color="#E0232F"/><stop offset="0.900" stop-color="#DF2330"/><stop offset="0.920" stop-color="#DE2231"/><stop offset="0.940" stop-color="#DE2131"/><stop offset="0.960" stop-color="#DD2032"/><stop offset="0.980" stop-color="#DD2032"/><stop offset="1.000" stop-color="#DC1F33"/></linearGradient></defs>
<rect x="83.4" y="211.00" width="171.1" height="2.20" fill="url(#a0l)"/>
<rect x="254.2" y="211.00" width="170.8" height="2.20" fill="url(#a0r)"/>
<rect x="83.4" y="212.00" width="171.1" height="2.20" fill="url(#a1l)"/>
<rect x="254.2" y="212.00" width="170.8" height="2.20" fill="url(#a1r)"/>
<rect x="83.4" y="213.00" width="171.1" height="2.20" fill="url(#a2l)"/>
<rect x="254.2" y="213.00" width="170.8" height="2.20" fill="url(#a2r)"/>
<rect x="83.4" y="214.00" width="171.1" height="2.20" fill="url(#a3l)"/>
<rect x="254.2" y="214.00" width="170.8" height="2.20" fill="url(#a3r)"/>
<rect x="83.4" y="215.00" width="171.1" height="2.20" fill="url(#a4l)"/>
<rect x="254.2" y="215.00" width="170.8" height="2.20" fill="url(#a4r)"/>
<rect x="83.4" y="216.00" width="171.1" height="2.20" fill="url(#a5l)"/>
<rect x="254.2" y="216.00" width="170.8" height="2.20" fill="url(#a5r)"/>
<rect x="83.4" y="217.00" width="171.1" height="2.20" fill="url(#a6l)"/>
<rect x="254.2" y="217.00" width="170.8" height="2.20" fill="url(#a6r)"/>
<rect x="83.4" y="218.00" width="171.1" height="2.20" fill="url(#a7l)"/>
<rect x="254.2" y="218.00" width="170.8" height="2.20" fill="url(#a7r)"/>
<rect x="83.4" y="219.00" width="171.1" height="2.20" fill="url(#a8l)"/>
<rect x="254.2" y="219.00" width="170.8" height="2.20" fill="url(#a8r)"/>
<rect x="83.4" y="220.00" width="171.1" height="54.30" fill="url(#gl)"/>
<rect x="254.2" y="220.00" width="170.8" height="54.30" fill="url(#gr)"/>

<rect x="83.4" y="240.0" width="341.6" height="15.0" fill="url(#af)"/>
<path d="M83.4 274.9V249.3H84.4V249.9H85.4V256.5H86.4V249.6H87.4V250.7H88.4V250.1H89.4V245.4H90.4V247.4H91.4V249.7H92.4V261.0H93.4V253.1H94.4V259.7H95.4V248.5H96.4V251.7H97.4V260.5H98.4V251.6H99.4V251.3H100.4V263.3H101.4V240.8H102.4V266.7H103.4V250.0H104.4V251.7H105.4V266.4H106.4V252.4H107.4V249.3H108.4V252.6H109.4V259.1H110.4V254.7H111.4V247.8H112.4V249.2H113.4V271.3H114.4V243.8H115.4V242.9H116.4V242.3H117.4V256.3H118.4V240.5H119.4V260.6H120.4V255.3H121.4V246.8H122.4V247.2H123.4V251.4H124.4V247.8H125.4V253.0H126.4V250.2H127.4V245.0H128.4V249.0H129.4V265.2H130.4V256.0H131.4V250.5H132.4V248.1H133.4V245.2H134.4V263.7H135.4V260.5H136.4V247.2H137.4V242.3H138.4V254.1H139.4V255.6H140.4V250.4H141.4V241.3H142.4V251.7H143.4V251.6H144.4V263.6H145.4V238.5H146.4V262.1H147.4V255.2H148.4V247.9H149.4V253.6H150.4V249.5H151.4V253.3H152.4V248.6H153.4V258.0H154.4V249.0H155.4V255.0H156.4V253.2H157.4V250.6H158.4V247.9H159.4V236.3H160.4V245.4H161.4V248.7H162.4V262.7H163.4V247.8H164.4V249.8H165.4V251.6H166.4V252.9H167.4V256.7H168.4V247.0H169.4V253.4H170.4V255.3H171.4V264.3H172.4V252.6H173.4V255.1H174.4V250.7H175.4V251.7H176.4V262.0H177.4V260.7H178.4V233.3H179.4V255.9H180.4V265.8H181.4V257.0H182.4V251.2H183.4V243.1H184.4V264.3H185.4V247.7H186.4V246.2H187.4V249.1H188.4V267.0H189.4V264.5H190.4V253.3H191.4V260.5H192.4V247.5H193.4V257.3H194.4V248.2H195.4V256.9H196.4V246.0H197.4V265.0H198.4V234.9H199.4V252.9H200.4V236.6H201.4V259.7H202.4V249.9H203.4V248.0H204.4V262.3H205.4V247.2H206.4V256.8H207.4V251.4H208.4V244.2H209.4V244.3H210.4V249.3H211.4V253.6H212.4V262.3H213.4V252.9H214.4V264.9H215.4V248.5H216.4V248.0H217.4V249.8H218.4V253.9H219.4V252.6H220.4V257.0H221.4V249.1H222.4V250.0H223.4V250.4H224.4V250.5H225.4V246.2H226.4V266.5H227.4V270.0H228.4V252.4H229.4V243.8H230.4V254.2H231.4V259.8H232.4V248.3H233.4V251.8H234.4V244.8H235.4V258.9H236.4V254.6H237.4V246.5H238.4V258.8H239.4V254.6H240.4V248.0H241.4V249.5H242.4V249.8H243.4V241.5H244.4V246.1H245.4V247.5H246.4V251.8H247.4V245.1H248.4V237.4H249.4V238.1H250.4V249.4H251.4V246.9H252.4V235.9H253.4V236.3H254.4V244.4H255.4V246.6H256.4V244.9H257.4V236.9H258.4V242.2H259.4V242.2H260.4V240.4H261.4V248.2H262.4V252.7H263.4V248.1H264.4V261.4H265.4V246.2H266.4V262.7H267.4V253.6H268.4V242.7H269.4V244.7H270.4V246.2H271.4V256.5H272.4V250.6H273.4V264.2H274.4V246.8H275.4V271.1H276.4V249.9H277.4V266.4H278.4V244.9H279.4V248.9H280.4V258.4H281.4V257.6H282.4V263.8H283.4V249.3H284.4V249.3H285.4V248.5H286.4V255.0H287.4V240.5H288.4V259.7H289.4V243.7H290.4V242.1H291.4V246.3H292.4V259.4H293.4V251.0H294.4V258.0H295.4V255.1H296.4V250.1H297.4V251.5H298.4V249.8H299.4V251.3H300.4V246.1H301.4V250.1H302.4V260.6H303.4V260.4H304.4V249.2H305.4V254.1H306.4V252.6H307.4V268.7H308.4V255.5H309.4V260.1H310.4V243.7H311.4V247.7H312.4V245.4H313.4V271.5H314.4V249.0H315.4V249.7H316.4V256.5H317.4V248.2H318.4V252.3H319.4V248.6H320.4V265.0H321.4V240.1H322.4V248.9H323.4V251.1H324.4V252.6H325.4V261.1H326.4V248.9H327.4V247.2H328.4V243.5H329.4V258.1H330.4V246.6H331.4V250.6H332.4V247.0H333.4V252.2H334.4V251.6H335.4V255.4H336.4V261.7H337.4V242.2H338.4V249.9H339.4V258.4H340.4V248.8H341.4V247.8H342.4V265.0H343.4V259.3H344.4V233.8H345.4V252.2H346.4V263.9H347.4V244.6H348.4V256.3H349.4V253.4H350.4V252.3H351.4V263.3H352.4V258.1H353.4V249.9H354.4V247.0H355.4V253.9H356.4V257.0H357.4V245.0H358.4V249.5H359.4V257.6H360.4V245.8H361.4V252.2H362.4V247.2H363.4V253.4H364.4V260.1H365.4V247.0H366.4V250.6H367.4V240.3H368.4V246.3H369.4V252.1H370.4V251.7H371.4V245.9H372.4V253.3H373.4V251.1H374.4V253.3H375.4V266.9H376.4V247.8H377.4V247.0H378.4V251.2H379.4V253.8H380.4V249.3H381.4V254.5H382.4V246.4H383.4V255.4H384.4V249.8H385.4V257.8H386.4V247.8H387.4V249.5H388.4V258.3H389.4V257.5H390.4V250.8H391.4V244.7H392.4V249.0H393.4V247.3H394.4V245.6H395.4V245.6H396.4V252.9H397.4V251.1H398.4V248.2H399.4V248.5H400.4V251.3H401.4V248.8H402.4V261.0H403.4V258.4H404.4V263.7H405.4V248.4H406.4V250.7H407.4V259.5H408.4V251.5H409.4V245.7H410.4V253.9H411.4V253.6H412.4V248.2H413.4V241.4H414.4V245.4H415.4V249.2H416.4V246.1H417.4V269.5H418.4V253.1H419.4V252.7H420.4V263.9H421.4V248.7H422.4V254.2H423.4V262.0H424.4V250.6H425.0V274.9Z" fill="#06060a"/>
<path d="M85.9 246.8V256.5M92.9 244.6V261.0M94.9 247.8V259.7M97.9 244.8V260.5M100.9 250.0V263.3M102.9 247.5V266.7M105.9 246.8V266.4M109.9 242.3V259.1M110.9 243.5V254.7M113.9 245.1V271.3M117.9 250.9V256.3M119.9 247.6V260.6M120.9 244.6V255.3M129.9 248.9V265.2M130.9 245.9V256.0M134.9 246.9V263.7M135.9 250.9V260.5M138.9 242.1V254.1M139.9 243.8V255.6M144.9 249.1V263.6M146.9 245.5V262.1M147.9 248.4V255.2M149.9 247.6V253.6M153.9 246.1V258.0M155.9 248.3V255.0M162.9 248.0V262.7M167.9 247.5V256.7M170.9 245.0V255.3M171.9 248.7V264.3M173.9 249.2V255.1M176.9 244.4V262.0M177.9 248.0V260.7M179.9 242.5V255.9M180.9 245.9V265.8M181.9 244.5V257.0M184.9 248.0V264.3M188.9 243.6V267.0M189.9 250.2V264.5M191.9 249.7V260.5M193.9 250.2V257.3M195.9 244.9V256.9M197.9 244.6V265.0M201.9 249.4V259.7M204.9 247.4V262.3M206.9 243.5V256.8M211.9 245.7V253.6M212.9 250.2V262.3M214.9 249.0V264.9M218.9 249.6V253.9M220.9 249.9V257.0M226.9 247.2V266.5M227.9 250.2V270.0M230.9 242.4V254.2M231.9 246.7V259.8M235.9 245.4V258.9M236.9 243.9V254.6M238.9 242.4V258.8M239.9 241.6V254.6M246.9 243.1V251.8M250.9 242.4V249.4M262.9 243.1V252.7M264.9 247.4V261.4M266.9 244.7V262.7M267.9 242.3V253.6M271.9 240.9V256.5M273.9 243.0V264.2M275.9 244.5V271.1M277.9 245.2V266.4M280.9 250.7V258.4M281.9 247.9V257.6M282.9 247.8V263.8M286.9 245.1V255.0M288.9 250.0V259.7M292.9 247.6V259.4M294.9 246.4V258.0M295.9 243.9V255.1M302.9 243.6V260.6M303.9 245.5V260.4M305.9 249.6V254.1M307.9 244.1V268.7M308.9 242.9V255.5M309.9 246.1V260.1M313.9 247.8V271.5M316.9 246.5V256.5M320.9 249.7V265.0M325.9 244.6V261.1M329.9 242.1V258.1M335.9 246.4V255.4M336.9 244.6V261.7M339.9 243.5V258.4M342.9 249.2V265.0M343.9 242.5V259.3M346.9 245.4V263.9M348.9 249.2V256.3M351.9 250.3V263.3M352.9 248.8V258.1M355.9 245.8V253.9M356.9 244.7V257.0M359.9 248.0V257.6M364.9 242.6V260.1M375.9 247.7V266.9M379.9 246.8V253.8M381.9 249.9V254.5M383.9 242.2V255.4M385.9 249.8V257.8M388.9 242.9V258.3M389.9 246.1V257.5M402.9 246.0V261.0M403.9 246.0V258.4M404.9 248.6V263.7M407.9 242.8V259.5M410.9 242.1V253.9M411.9 243.6V253.6M417.9 245.6V269.5M420.9 249.9V263.9M422.9 243.6V254.2M423.9 248.4V262.0" stroke="#6c6c70" stroke-opacity="0.6" stroke-width="1" fill="none"/>
<path d="M85.9 243.0V257.5M89.9 241.2V246.4M91.9 241.4V250.7M92.9 241.6V262.0M101.9 230.8V241.8M105.9 245.6V267.4M106.9 239.0V253.4M112.9 244.5V250.2M113.9 239.2V272.3M117.9 245.8V257.3M118.9 229.3V241.5M119.9 239.3V261.6M123.9 241.3V252.4M124.9 243.3V248.8M125.9 247.0V254.0M132.9 239.5V249.1M134.9 245.9V264.7M136.9 240.1V248.2M138.9 242.9V255.1M143.9 240.4V252.6M144.9 244.2V264.6M148.9 239.4V248.9M150.9 247.3V250.5M153.9 247.4V259.0M156.9 247.2V254.2M158.9 235.2V248.9M160.9 238.4V246.4M161.9 242.4V249.7M162.9 248.6V263.7M164.9 241.8V250.8M167.9 245.2V257.7M172.9 246.6V253.6M174.9 244.5V251.7M176.9 244.7V263.0M177.9 245.0V261.7M179.9 245.5V256.9M181.9 244.7V258.0M182.9 245.6V252.2M183.9 233.3V244.1M185.9 242.7V248.7M192.9 238.5V248.5M195.9 244.6V257.9M197.9 245.2V266.0M200.9 230.3V237.6M213.9 241.5V253.9M214.9 243.6V265.9M224.9 244.9V251.5M225.9 243.5V247.2M229.9 239.0V244.8M236.9 241.3V255.6M237.9 237.0V247.5M239.9 243.8V255.6M240.9 242.4V249.0M245.9 243.0V248.5M246.9 239.2V252.8M247.9 236.9V246.1M249.9 235.5V239.1M258.9 239.9V243.2M259.9 236.2V243.2M261.9 238.7V249.2M265.9 233.8V247.2M266.9 236.3V263.7M267.9 242.3V254.6M271.9 239.5V257.5M272.9 246.8V251.6M282.9 241.9V264.8M283.9 240.5V250.3M288.9 242.4V260.7M289.9 234.8V244.7M291.9 239.1V247.3M295.9 239.8V256.1M298.9 238.2V250.8M301.9 245.1V251.1M306.9 245.0V253.6M308.9 244.7V256.5M313.9 245.3V272.5M315.9 240.1V250.7M316.9 238.6V257.5M317.9 235.2V249.2M328.9 236.9V244.5M331.9 244.0V251.6M332.9 240.4V248.0M345.9 247.2V253.2M355.9 243.4V254.9M356.9 244.4V258.0M358.9 238.2V250.5M362.9 243.5V248.2M367.9 237.0V241.3M378.9 242.5V252.2M389.9 238.7V258.5M390.9 240.7V251.8M392.9 238.4V250.0M397.9 245.6V252.1M401.9 242.0V249.8M413.9 238.7V242.4M418.9 245.6V254.1M420.9 238.5V264.9M421.9 238.1V249.7M423.9 240.6V263.0" stroke="#d2d2cc" stroke-opacity="0.7" stroke-width="0.8" fill="none"/>
<path d="M85.9 257.5V260.7M89.9 246.4V261.5M91.9 250.7V259.3M92.9 262.0V266.4M101.9 241.8V268.4M105.9 267.4V273.8M106.9 253.4V270.8M112.9 250.2V258.8M113.9 272.3V273.8M117.9 257.3V273.8M118.9 241.5V259.7M119.9 261.6V273.8M123.9 252.4V269.4M124.9 248.8V258.9M125.9 254.0V259.7M132.9 249.1V258.6M134.9 264.7V273.8M136.9 248.2V266.0M138.9 255.1V267.4M143.9 252.6V257.3M144.9 264.6V273.8M148.9 248.9V265.4M150.9 250.5V261.9M153.9 259.0V265.9M156.9 254.2V267.3M158.9 248.9V254.7M160.9 246.4V265.9M161.9 249.7V258.8M162.9 263.7V273.8M164.9 250.8V257.9M167.9 257.7V270.8M172.9 253.6V263.1M174.9 251.7V255.2M176.9 263.0V273.8M177.9 261.7V266.2M179.9 256.9V265.0M181.9 258.0V263.8M182.9 252.2V261.0M183.9 244.1V258.2M185.9 248.7V265.4M192.9 248.5V255.4M195.9 257.9V267.5M197.9 266.0V273.8M200.9 237.6V259.8M213.9 253.9V259.7M214.9 265.9V273.8M224.9 251.5V256.8M225.9 247.2V255.0M229.9 244.8V261.8M236.9 255.6V272.6M237.9 247.5V259.2M239.9 255.6V269.3M240.9 249.0V252.1M245.9 248.5V252.2M246.9 252.8V256.7M247.9 246.1V251.5M249.9 239.1V249.6M258.9 243.2V251.3M259.9 243.2V260.9M261.9 249.2V264.2M265.9 247.2V257.3M266.9 263.7V266.0M267.9 254.6V262.5M271.9 257.5V268.2M272.9 251.6V255.9M282.9 264.8V272.9M283.9 250.3V268.1M288.9 260.7V271.9M289.9 244.7V261.1M291.9 247.3V269.9M295.9 256.1V268.4M298.9 250.8V265.4M301.9 251.1V264.3M306.9 253.6V257.2M308.9 256.5V272.1M313.9 272.5V273.8M315.9 250.7V261.5M316.9 257.5V269.2M317.9 249.2V265.1M328.9 244.5V258.5M331.9 251.6V256.1M332.9 248.0V259.5M345.9 253.2V265.6M355.9 254.9V261.6M356.9 258.0V260.9M358.9 250.5V256.5M362.9 248.2V267.1M367.9 241.3V268.7M378.9 252.2V269.5M389.9 258.5V272.5M390.9 251.8V260.7M392.9 250.0V261.0M397.9 252.1V269.4M401.9 249.8V260.0M413.9 242.4V267.2M418.9 254.1V269.7M420.9 264.9V273.8M421.9 249.7V257.5M423.9 263.0V273.8" stroke="#a8a8a4" stroke-opacity="0.62" stroke-width="0.75" fill="none"/>
<path d="M87.9 248.0V258.6M90.9 245.1V250.7M94.9 257.2V267.2M98.9 249.3V260.9M103.9 247.6V252.6M104.9 249.7V256.9M114.9 241.5V246.2M122.9 243.6V256.2M129.9 261.5V272.6M151.9 252.2V261.7M166.9 248.9V259.8M169.9 251.9V262.2M171.9 263.6V270.7M173.9 251.2V262.6M175.9 250.6V253.9M178.9 230.3V241.1M186.9 242.7V250.0M187.9 248.2V251.4M189.9 261.8V273.8M193.9 257.1V262.4M202.9 248.6V254.0M205.9 244.8V256.9M209.9 243.2V252.9M210.9 245.6V251.6M212.9 258.3V265.5M217.9 248.4V258.9M223.9 247.4V256.6M227.9 266.9V273.8M230.9 251.4V258.3M231.9 258.5V267.9M233.9 249.0V258.8M235.9 256.3V262.8M238.9 255.1V268.7M242.9 246.6V258.5M243.9 239.0V249.6M244.9 243.3V252.5M248.9 236.5V243.3M250.9 249.1V252.9M253.9 233.1V241.5M270.9 242.6V250.8M273.9 264.2V270.2M274.9 244.7V256.4M279.9 246.1V252.3M281.9 256.9V262.5M287.9 237.8V245.8M292.9 256.5V269.3M314.9 246.6V256.6M318.9 251.0V257.5M321.9 238.1V249.6M326.9 245.1V254.0M335.9 253.9V263.2M336.9 258.1V271.3M337.9 240.3V246.7M340.9 245.5V256.0M344.9 233.2V239.0M349.9 253.3V262.2M357.9 242.7V250.6M372.9 250.3V257.4M373.9 249.2V255.9M374.9 253.1V261.9M375.9 266.0V269.7M376.9 245.9V251.7M380.9 246.9V256.0M383.9 252.2V260.8M384.9 248.7V257.2M385.9 256.6V266.4M393.9 245.5V252.8M394.9 242.7V248.2M399.9 246.4V257.2M407.9 258.8V264.3M410.9 251.5V259.7M411.9 250.8V257.5M417.9 267.5V273.3" stroke="#8e8e92" stroke-opacity="0.5" stroke-width="0.8" fill="none"/>
<path d="M85.9 257.4V268.4M104.9 255.2V271.1M110.9 258.6V273.6M114.9 255.5V272.5M121.9 251.5V269.9M130.9 260.9V271.7M133.9 252.4V269.8M151.9 257.8V270.9M153.9 259.5V270.6M155.9 259.1V273.3M157.9 253.1V272.1M160.9 252.2V269.0M166.9 254.9V270.4M179.9 260.3V272.3M181.9 257.8V270.7M187.9 254.2V270.9M200.9 253.0V274.0M202.9 252.7V268.9M213.9 255.7V271.9M238.9 262.4V273.6M253.9 247.8V270.4M260.9 247.2V268.5M270.9 251.2V269.9M301.9 253.8V269.6M306.9 254.4V269.1M309.9 265.1V273.1M334.9 256.1V273.8M336.9 264.8V271.5M341.9 253.3V271.9M350.9 254.1V271.1M364.9 260.7V272.5M366.9 253.1V273.8M374.9 255.9V271.0M377.9 253.0V268.5M382.9 251.5V272.8M384.9 255.9V269.3M386.9 254.8V274.0M418.9 256.6V270.9" stroke="#77777a" stroke-opacity="0.5" stroke-width="0.7" fill="none"/>
<path d="M251.6 248L252.8 238L253.4 224L253.8 212L254.2 224L254.9 238L256.2 248Z" fill="#06060a"/>
<rect x="204.2" y="311.20" width="50.3" height="40.00" fill="url(#kl)"/>
<rect x="254.2" y="311.20" width="50.0" height="40.00" fill="url(#kr)"/>
<rect x="83.4" y="311.20" width="171.1" height="2.20" fill="url(#b0l)"/>
<rect x="254.2" y="311.20" width="170.8" height="2.20" fill="url(#b0r)"/>
<rect x="83.4" y="312.20" width="171.1" height="2.20" fill="url(#b1l)"/>
<rect x="254.2" y="312.20" width="170.8" height="2.20" fill="url(#b1r)"/>
<rect x="83.4" y="313.20" width="171.1" height="2.20" fill="url(#b2l)"/>
<rect x="254.2" y="313.20" width="170.8" height="2.20" fill="url(#b2r)"/>
<rect x="83.4" y="314.20" width="171.1" height="2.20" fill="url(#b3l)"/>
<rect x="254.2" y="314.20" width="170.8" height="2.20" fill="url(#b3r)"/>
<rect x="83.4" y="315.20" width="171.1" height="2.20" fill="url(#b4l)"/>
<rect x="254.2" y="315.20" width="170.8" height="2.20" fill="url(#b4r)"/>
<rect x="83.4" y="316.20" width="171.1" height="2.20" fill="url(#b5l)"/>
<rect x="254.2" y="316.20" width="170.8" height="2.20" fill="url(#b5r)"/>
<rect x="83.4" y="317.20" width="171.1" height="2.20" fill="url(#b6l)"/>
<rect x="254.2" y="317.20" width="170.8" height="2.20" fill="url(#b6r)"/>
<rect x="83.4" y="318.20" width="171.1" height="2.20" fill="url(#b7l)"/>
<rect x="254.2" y="318.20" width="170.8" height="2.20" fill="url(#b7r)"/>
<rect x="83.4" y="319.20" width="171.1" height="2.20" fill="url(#b8l)"/>
<rect x="254.2" y="319.20" width="170.8" height="2.20" fill="url(#b8r)"/>
<rect x="83.4" y="320.20" width="171.1" height="2.20" fill="url(#b9l)"/>
<rect x="254.2" y="320.20" width="170.8" height="2.20" fill="url(#b9r)"/>
<rect x="83.4" y="321.20" width="171.1" height="2.20" fill="url(#b10l)"/>
<rect x="254.2" y="321.20" width="170.8" height="2.20" fill="url(#b10r)"/>
<rect x="83.4" y="322.20" width="171.1" height="2.20" fill="url(#b11l)"/>
<rect x="254.2" y="322.20" width="170.8" height="2.20" fill="url(#b11r)"/>
<rect x="83.4" y="323.20" width="171.1" height="2.20" fill="url(#b12l)"/>
<rect x="254.2" y="323.20" width="170.8" height="2.20" fill="url(#b12r)"/>
<rect x="83.4" y="324.20" width="171.1" height="2.20" fill="url(#b13l)"/>
<rect x="254.2" y="324.20" width="170.8" height="2.20" fill="url(#b13r)"/>
<rect x="83.4" y="325.20" width="171.1" height="2.20" fill="url(#b14l)"/>
<rect x="254.2" y="325.20" width="170.8" height="2.20" fill="url(#b14r)"/>
<rect x="83.4" y="326.20" width="171.1" height="2.20" fill="url(#b15l)"/>
<rect x="254.2" y="326.20" width="170.8" height="2.20" fill="url(#b15r)"/>
<rect x="83.4" y="327.20" width="171.1" height="2.20" fill="url(#b16l)"/>
<rect x="254.2" y="327.20" width="170.8" height="2.20" fill="url(#b16r)"/>
<rect x="83.4" y="328.20" width="171.1" height="2.20" fill="url(#b17l)"/>
<rect x="254.2" y="328.20" width="170.8" height="2.20" fill="url(#b17r)"/>
<rect x="83.4" y="329.20" width="171.1" height="2.20" fill="url(#b18l)"/>
<rect x="254.2" y="329.20" width="170.8" height="2.20" fill="url(#b18r)"/>
<rect x="83.4" y="330.20" width="171.1" height="44.60" fill="url(#hl)"/>
<rect x="254.2" y="330.20" width="170.8" height="44.60" fill="url(#hr)"/>
<rect x="244.5" y="311.2" width="20" height="40" fill="url(#axc)"/><g filter="url(#bl)"><path d="M211.5 309L213.8 311.1L217.5 314.2L220.9 315.9L225.8 317.1L228.3 319.6L230.8 318.8L234.9 317.1L239.1 315.5L242.4 313.8L246 312L262.4 312L264.5 313L269 314.2L274.9 316.3L279 317.1L283.1 316.3L287.3 314.6L293.1 313L298 311.3L300 309Z" fill="#E0242F"/></g><rect x="200" y="305" width="110" height="6.2" fill="#fff"/>
<rect x="83.4" y="339.0" width="341.6" height="15.0" fill="url(#bf)"/>
<path d="M83.4 375.4V355.2H84.4V352.0H85.4V357.0H86.4V355.0H87.4V341.7H88.4V347.6H89.4V347.1H90.4V343.7H91.4V343.5H92.4V352.0H93.4V349.3H94.4V362.6H95.4V349.3H96.4V352.6H97.4V349.9H98.4V351.5H99.4V351.1H100.4V347.9H101.4V332.8H102.4V339.4H103.4V355.8H104.4V350.9H105.4V352.6H106.4V342.7H107.4V350.0H108.4V353.4H109.4V342.7H110.4V351.6H111.4V350.3H112.4V344.1H113.4V365.8H114.4V355.9H115.4V354.6H116.4V346.3H117.4V345.8H118.4V352.6H119.4V363.5H120.4V352.7H121.4V336.3H122.4V358.9H123.4V351.2H124.4V340.4H125.4V347.7H126.4V358.8H127.4V363.4H128.4V339.8H129.4V344.8H130.4V359.6H131.4V348.9H132.4V346.5H133.4V361.1H134.4V338.6H135.4V352.5H136.4V347.2H137.4V356.1H138.4V363.9H139.4V362.1H140.4V363.3H141.4V345.2H142.4V366.8H143.4V353.9H144.4V350.0H145.4V358.3H146.4V341.4H147.4V349.4H148.4V357.6H149.4V344.8H150.4V367.0H151.4V349.7H152.4V351.2H153.4V354.2H154.4V354.5H155.4V348.7H156.4V361.4H157.4V345.0H158.4V347.7H159.4V343.9H160.4V348.5H161.4V362.4H162.4V353.2H163.4V364.0H164.4V347.3H165.4V352.5H166.4V348.8H167.4V365.0H168.4V349.8H169.4V353.1H170.4V350.8H171.4V352.6H172.4V358.6H173.4V358.8H174.4V358.2H175.4V348.1H176.4V350.7H177.4V353.9H178.4V360.5H179.4V357.9H180.4V350.3H181.4V356.4H182.4V341.2H183.4V355.2H184.4V349.2H185.4V349.7H186.4V344.2H187.4V342.5H188.4V355.4H189.4V348.3H190.4V347.9H191.4V341.1H192.4V347.6H193.4V360.2H194.4V352.6H195.4V338.4H196.4V357.9H197.4V351.5H198.4V348.9H199.4V349.2H200.4V348.6H201.4V350.9H202.4V353.8H203.4V348.5H204.4V342.1H205.4V349.4H206.4V354.1H207.4V351.5H208.4V348.4H209.4V350.5H210.4V344.2H211.4V345.9H212.4V356.7H213.4V346.0H214.4V348.0H215.4V364.4H216.4V354.0H217.4V352.3H218.4V342.0H219.4V347.2H220.4V335.9H221.4V341.9H222.4V347.2H223.4V346.1H224.4V346.2H225.4V344.2H226.4V347.3H227.4V360.6H228.4V341.3H229.4V345.1H230.4V331.4H231.4V344.3H232.4V346.7H233.4V338.7H234.4V342.3H235.4V341.3H236.4V339.5H237.4V333.4H238.4V335.4H239.4V342.4H240.4V342.6H241.4V337.4H242.4V350.8H243.4V336.5H244.4V347.1H245.4V336.2H246.4V344.3H247.4V337.1H248.4V329.5H249.4V325.0H250.4V327.8H251.4V326.6H252.4V326.3H253.4V344.0H254.4V331.2H255.4V336.4H256.4V331.0H257.4V335.6H258.4V331.9H259.4V327.9H260.4V343.2H261.4V352.9H262.4V337.0H263.4V338.1H264.4V331.3H265.4V353.4H266.4V343.7H267.4V350.7H268.4V336.3H269.4V337.2H270.4V324.3H271.4V352.6H272.4V337.8H273.4V352.0H274.4V343.5H275.4V341.9H276.4V360.7H277.4V345.1H278.4V358.6H279.4V346.9H280.4V343.9H281.4V351.0H282.4V343.7H283.4V347.6H284.4V352.3H285.4V348.1H286.4V342.9H287.4V361.3H288.4V348.6H289.4V341.4H290.4V346.7H291.4V349.9H292.4V350.5H293.4V357.3H294.4V356.0H295.4V350.7H296.4V339.7H297.4V340.1H298.4V356.2H299.4V343.1H300.4V344.8H301.4V350.3H302.4V358.7H303.4V341.4H304.4V343.7H305.4V345.2H306.4V355.0H307.4V363.1H308.4V350.5H309.4V368.9H310.4V349.3H311.4V346.3H312.4V341.4H313.4V346.3H314.4V349.3H315.4V350.9H316.4V343.2H317.4V339.4H318.4V356.6H319.4V355.2H320.4V351.1H321.4V346.9H322.4V344.7H323.4V348.6H324.4V350.1H325.4V349.2H326.4V347.3H327.4V342.9H328.4V355.2H329.4V366.9H330.4V352.2H331.4V344.7H332.4V342.3H333.4V351.1H334.4V345.8H335.4V348.9H336.4V350.9H337.4V346.8H338.4V342.2H339.4V346.5H340.4V349.0H341.4V350.4H342.4V348.2H343.4V349.5H344.4V343.2H345.4V341.9H346.4V364.5H347.4V346.4H348.4V338.6H349.4V361.0H350.4V337.5H351.4V345.2H352.4V356.9H353.4V355.0H354.4V358.1H355.4V368.7H356.4V350.4H357.4V341.6H358.4V351.8H359.4V348.4H360.4V344.4H361.4V348.4H362.4V346.7H363.4V337.5H364.4V354.8H365.4V335.3H366.4V361.3H367.4V337.7H368.4V363.3H369.4V347.3H370.4V345.0H371.4V344.6H372.4V348.0H373.4V365.5H374.4V349.5H375.4V344.6H376.4V354.5H377.4V348.3H378.4V352.6H379.4V357.2H380.4V344.4H381.4V354.2H382.4V348.2H383.4V349.1H384.4V349.1H385.4V350.0H386.4V339.0H387.4V350.1H388.4V350.7H389.4V341.3H390.4V349.2H391.4V352.4H392.4V347.3H393.4V349.1H394.4V342.1H395.4V369.2H396.4V349.4H397.4V353.5H398.4V353.0H399.4V359.3H400.4V355.8H401.4V353.9H402.4V373.3H403.4V359.8H404.4V373.3H405.4V373.3H406.4V364.2H407.4V361.9H408.4V361.5H409.4V349.7H410.4V356.3H411.4V361.7H412.4V356.6H413.4V345.4H414.4V361.2H415.4V358.5H416.4V362.3H417.4V343.6H418.4V348.9H419.4V348.0H420.4V347.8H421.4V348.2H422.4V344.5H423.4V334.2H424.4V354.3H425.0V375.4Z" fill="#06060a"/>
<path d="M83.9 346.3V355.2M85.9 342.5V357.0M86.9 345.2V355.0M94.9 345.9V362.6M96.9 348.3V352.6M103.9 342.9V355.8M105.9 348.7V352.6M108.9 347.3V353.4M113.9 349.2V365.8M114.9 349.9V355.9M115.9 347.3V354.6M118.9 349.6V352.6M119.9 345.8V363.5M120.9 346.9V352.7M122.9 349.8V358.9M126.9 345.8V358.8M127.9 347.4V363.4M130.9 347.9V359.6M133.9 345.1V361.1M137.9 347.0V356.1M138.9 349.5V363.9M139.9 341.6V362.1M140.9 341.3V363.3M142.9 347.9V366.8M143.9 344.1V353.9M145.9 344.7V358.3M148.9 347.8V357.6M150.9 345.2V367.0M153.9 347.6V354.2M154.9 347.5V354.5M156.9 345.9V361.4M161.9 349.6V362.4M162.9 347.9V353.2M163.9 341.1V364.0M167.9 343.1V365.0M169.9 347.0V353.1M171.9 341.0V352.6M172.9 347.0V358.6M173.9 342.3V358.8M174.9 347.1V358.2M177.9 342.0V353.9M178.9 345.9V360.5M179.9 342.2V357.9M181.9 348.8V356.4M183.9 346.5V355.2M188.9 346.9V355.4M193.9 343.0V360.2M194.9 342.2V352.6M196.9 348.8V357.9M202.9 346.3V353.8M206.9 348.4V354.1M212.9 349.3V356.7M215.9 348.5V364.4M216.9 349.0V354.0M217.9 346.8V352.3M227.9 343.6V360.6M240.9 331.1V342.6M242.9 331.7V350.8M244.9 329.2V347.1M246.9 331.7V344.3M247.9 331.2V337.1M253.9 328.3V344.0M255.9 330.0V336.4M257.9 332.4V335.6M260.9 331.5V343.2M261.9 326.2V352.9M265.9 337.0V353.4M266.9 333.7V343.7M267.9 337.0V350.7M271.9 335.4V352.6M273.9 343.3V352.0M276.9 340.9V360.7M278.9 340.0V358.6M281.9 343.6V351.0M284.9 347.3V352.3M287.9 341.2V361.3M293.9 349.6V357.3M294.9 341.5V356.0M298.9 342.6V356.2M302.9 342.0V358.7M306.9 342.2V355.0M307.9 346.7V363.1M309.9 344.4V368.9M318.9 345.8V356.6M319.9 344.7V355.2M328.9 346.6V355.2M329.9 342.3V366.9M346.9 347.2V364.5M349.9 344.9V361.0M352.9 349.4V356.9M353.9 349.5V355.0M354.9 342.0V358.1M355.9 346.8V368.7M364.9 346.6V354.8M366.9 341.1V361.3M368.9 343.5V363.3M373.9 348.6V365.5M376.9 345.1V354.5M378.9 345.7V352.6M379.9 344.6V357.2M381.9 347.5V354.2M395.9 349.2V369.2M402.9 353.6V373.3M404.9 357.6V373.3M405.9 357.4V373.3M406.9 354.9V364.2M408.9 350.8V361.5M411.9 351.2V361.7M412.9 344.8V356.6M414.9 346.3V361.2M415.9 349.0V358.5M416.9 347.3V362.3M424.9 341.1V354.3" stroke="#6c6c70" stroke-opacity="0.6" stroke-width="1" fill="none"/>
<path d="M87.9 330.8V342.7M94.9 344.8V363.6M96.9 346.6V353.6M108.9 347.7V354.4M112.9 338.7V345.1M113.9 343.7V366.8M118.9 340.9V353.6M122.9 343.7V359.9M123.9 342.5V352.2M125.9 343.1V348.7M126.9 338.7V359.8M130.9 340.3V360.6M131.9 344.7V349.9M137.9 346.1V357.1M139.9 337.8V363.1M145.9 338.9V359.3M148.9 342.8V358.6M149.9 334.6V345.8M152.9 347.8V352.2M154.9 346.9V355.5M159.9 333.6V344.9M165.9 342.6V353.5M167.9 345.8V366.0M168.9 342.3V350.8M172.9 344.8V359.6M182.9 335.1V342.2M186.9 342.2V345.2M194.9 341.8V353.6M199.9 339.6V350.2M208.9 339.8V349.4M213.9 341.1V347.0M217.9 343.9V353.3M220.9 331.2V336.9M226.9 342.4V348.3M228.9 334.7V342.3M235.9 336.1V342.3M240.9 332.6V343.6M242.9 329.9V351.8M243.9 327.9V337.5M244.9 328.4V348.1M245.9 324.7V337.2M246.9 323.7V345.3M248.9 327.4V330.5M251.9 322.9V327.6M257.9 321.6V336.6M260.9 326.2V344.2M262.9 327.6V338.0M264.9 324.2V332.3M268.9 327.0V337.3M270.9 315.2V325.3M272.9 331.6V338.8M274.9 337.4V344.5M276.9 340.9V361.7M279.9 341.7V347.9M286.9 337.3V343.9M287.9 344.8V362.3M288.9 343.9V349.6M296.9 332.4V340.7M300.9 338.2V345.8M308.9 342.4V351.5M310.9 344.4V350.3M321.9 344.7V347.9M322.9 333.0V345.7M323.9 343.3V349.6M328.9 344.1V356.2M333.9 340.2V352.1M335.9 341.7V349.9M336.9 338.5V351.9M340.9 337.9V350.0M342.9 340.6V349.2M348.9 334.2V339.6M352.9 337.6V357.9M356.9 347.8V351.4M365.9 329.7V336.3M371.9 333.0V345.6M376.9 344.9V355.5M384.9 343.2V350.1M385.9 343.0V351.0M387.9 344.3V351.1M389.9 328.7V342.3M391.9 340.9V353.4M393.9 337.6V350.1M396.9 337.6V350.4M397.9 346.6V354.5M398.9 345.2V354.0M401.9 341.0V354.9M403.9 349.1V360.8M407.9 355.9V362.9M408.9 349.9V362.5M417.9 331.5V344.6M418.9 342.6V349.9M419.9 336.4V349.0M421.9 345.4V349.2" stroke="#d2d2cc" stroke-opacity="0.7" stroke-width="0.8" fill="none"/>
<path d="M87.9 342.7V354.5M94.9 363.6V372.5M96.9 353.6V366.1M108.9 354.4V359.8M112.9 345.1V363.9M113.9 366.8V374.3M118.9 353.6V359.8M122.9 359.9V364.5M123.9 352.2V361.8M125.9 348.7V364.4M126.9 359.8V363.8M130.9 360.6V374.3M131.9 349.9V362.2M137.9 357.1V371.1M139.9 363.1V374.2M145.9 359.3V373.3M148.9 358.6V371.5M149.9 345.8V360.5M152.9 352.2V370.1M154.9 355.5V361.3M159.9 344.9V361.1M165.9 353.5V368.3M167.9 366.0V371.5M168.9 350.8V364.1M172.9 359.6V364.7M182.9 342.2V368.5M186.9 345.2V368.4M194.9 353.6V356.5M199.9 350.2V364.5M208.9 349.4V355.8M213.9 347.0V368.5M217.9 353.3V357.5M220.9 336.9V360.4M226.9 348.3V364.4M228.9 342.3V351.2M235.9 342.3V360.0M240.9 343.6V351.6M242.9 351.8V359.4M243.9 337.5V345.6M244.9 348.1V357.2M245.9 337.2V347.6M246.9 345.3V347.5M248.9 330.5V342.3M251.9 327.6V343.4M257.9 336.6V354.3M260.9 344.2V354.7M262.9 338.0V349.5M264.9 332.3V343.0M268.9 337.3V356.1M270.9 325.3V346.6M272.9 338.8V359.7M274.9 344.5V361.2M276.9 361.7V369.4M279.9 347.9V353.8M286.9 343.9V366.6M287.9 362.3V369.2M288.9 349.6V363.9M296.9 340.7V354.2M300.9 345.8V363.4M308.9 351.5V357.1M310.9 350.3V356.0M321.9 347.9V362.9M322.9 345.7V364.0M323.9 349.6V361.9M328.9 356.2V368.7M333.9 352.1V357.5M335.9 349.9V362.5M336.9 351.9V360.2M340.9 350.0V367.4M342.9 349.2V365.6M348.9 339.6V354.8M352.9 357.9V368.2M356.9 351.4V356.2M365.9 336.3V364.1M371.9 345.6V367.5M376.9 355.5V369.3M384.9 350.1V362.3M385.9 351.0V362.7M387.9 351.1V353.8M389.9 342.3V364.4M391.9 353.4V357.6M393.9 350.1V366.3M396.9 350.4V366.6M397.9 354.5V368.6M398.9 354.0V365.1M401.9 354.9V368.9M403.9 360.8V374.3M407.9 362.9V368.9M408.9 362.5V366.3M417.9 344.6V363.9M418.9 349.9V365.6M419.9 349.0V362.9M421.9 349.2V353.9" stroke="#a8a8a4" stroke-opacity="0.62" stroke-width="0.75" fill="none"/>
<path d="M85.9 354.0V363.2M88.9 346.8V353.2M91.9 341.6V352.3M100.9 347.3V352.2M106.9 341.6V346.5M111.9 350.0V358.3M115.9 350.9V358.0M120.9 351.3V356.9M124.9 339.4V345.1M133.9 357.9V364.5M144.9 349.4V356.1M156.9 357.5V367.4M160.9 344.9V353.3M174.9 356.5V365.2M175.9 345.3V353.4M179.9 355.4V365.6M180.9 348.4V356.4M181.9 356.1V358.9M189.9 345.9V355.8M190.9 344.5V357.0M192.9 345.6V353.7M193.9 358.3V362.4M195.9 335.3V348.3M201.9 350.0V354.5M203.9 345.4V350.6M204.9 340.9V352.0M214.9 344.2V357.5M216.9 352.8V357.8M221.9 338.9V349.2M227.9 360.3V364.2M229.9 341.1V354.9M231.9 341.2V346.5M237.9 330.5V341.7M239.9 341.5V349.0M247.9 335.7V346.8M254.9 330.5V338.0M256.9 329.3V337.1M258.9 330.7V339.1M263.9 337.2V344.5M266.9 342.3V347.1M282.9 341.3V346.0M283.9 345.7V352.9M285.9 347.3V356.5M289.9 338.6V347.8M295.9 348.5V360.6M302.9 355.5V368.6M306.9 353.9V358.0M312.9 338.2V348.1M313.9 343.9V348.3M316.9 341.8V349.9M318.9 354.8V364.5M329.9 366.3V374.0M337.9 346.8V354.2M344.9 342.3V347.7M345.9 341.4V350.6M357.9 337.9V349.4M364.9 352.8V360.4M366.9 359.0V365.8M370.9 341.9V351.2M377.9 345.6V353.5M378.9 350.7V361.6M380.9 340.7V353.5M381.9 354.2V357.1M382.9 345.4V351.4M392.9 344.7V351.8M404.9 370.8V374.3M414.9 357.5V365.1" stroke="#8e8e92" stroke-opacity="0.5" stroke-width="0.8" fill="none"/>
<path d="M90.9 351.2V374.1M91.9 354.1V373.9M101.9 351.2V370.0M131.9 354.8V374.7M148.9 357.9V369.2M158.9 352.6V374.1M166.9 354.0V369.3M189.9 354.0V374.8M204.9 354.8V370.8M208.9 353.5V374.6M248.9 333.7V370.7M251.9 335.2V369.8M255.9 336.5V369.7M267.9 353.0V372.4M276.9 362.9V371.1M284.9 354.9V372.3M288.9 352.2V369.8M301.9 352.5V370.4M303.9 353.3V369.1M305.9 352.8V374.4M329.9 369.5V374.1M334.9 353.4V372.1M335.9 350.8V370.2M351.9 353.4V372.2M352.9 358.1V372.9M353.9 357.1V370.8M361.9 353.9V374.4M364.9 359.0V373.8M368.9 368.3V373.7M378.9 354.5V370.8M387.9 352.1V372.2M394.9 354.1V373.4M397.9 357.9V371.3M410.9 357.9V373.9M413.9 354.1V374.4M414.9 366.1V374.7M419.9 352.7V373.1M424.9 354.4V374.2" stroke="#77777a" stroke-opacity="0.5" stroke-width="0.7" fill="none"/>
<path d="M252.6 345L253.8 314L255.2 345Z" fill="#111"/>
<path d="M79.4 274.9H425.0M79.4 375.4H425.0" stroke="#9a9a9a" stroke-width="1" fill="none"/>
<path d="M83.4 274.9v4M104.8 274.9v4M126.1 274.9v4M147.5 274.9v4M168.8 274.9v4M190.2 274.9v4M211.5 274.9v4M232.9 274.9v4M254.2 274.9v4M275.6 274.9v4M296.9 274.9v4M318.2 274.9v4M339.6 274.9v4M361.0 274.9v4M382.3 274.9v4M403.6 274.9v4M425.0 274.9v4M83.4 375.4v4M104.8 375.4v4M126.1 375.4v4M147.5 375.4v4M168.8 375.4v4M190.2 375.4v4M211.5 375.4v4M232.9 375.4v4M254.2 375.4v4M275.6 375.4v4M296.9 375.4v4M318.2 375.4v4M339.6 375.4v4M361.0 375.4v4M382.3 375.4v4M403.6 375.4v4M425.0 375.4v4M83.4 211.5h-4M83.4 227.5h-4M83.4 243.5h-4M83.4 259.5h-4M83.4 311.5h-4M83.4 327.5h-4M83.4 343.5h-4M83.4 359.5h-4" stroke="#4a4a4a" stroke-width="1" fill="none"/>
<path d="M198.5 207.5L214 207.3C226 206.9 232 204.9 238 204.4C244 204.9 249 206.6 254 206.9C259 206.6 264 204.4 269.5 203.9C275 204.4 282 206.9 293 207.3L306 207.5V208.3H198.5Z" fill="#a9adac"/>
<path d="M198.2 307.2L208 307C218 305.8 224 303.6 231 298.6C237 303 245 305.8 253 306.2C261 305.6 268 302.6 274.1 297.1C280 302.6 287 305.6 297 306.9L306.2 307.2V308.2H198.2Z" fill="#a9adac"/>
<path d="M83.8 71.2C85.6 72.1 91.5 74.5 95.0 76.2C98.5 78.0 102.1 80.7 105.0 82.0C107.9 83.3 110.6 84.2 112.5 84.2C114.4 84.3 115.1 83.5 116.2 82.5C117.4 81.5 118.2 79.0 119.5 78.0C120.8 77.0 122.4 77.0 123.8 76.2C125.1 75.5 126.0 76.0 127.5 73.8C129.0 71.5 131.0 65.6 132.5 62.5C134.0 59.4 135.2 56.5 136.2 55.0C137.3 53.5 137.8 53.2 138.8 53.2C139.7 53.3 140.7 53.3 141.8 55.5C142.8 57.7 143.8 62.2 145.0 66.2C146.2 70.3 147.6 76.8 148.8 80.0C149.9 83.2 150.8 84.4 152.0 85.5C153.2 86.6 154.5 86.8 156.2 86.8C158.0 86.7 160.2 86.0 162.5 85.0C164.8 84.0 167.9 81.5 170.0 80.5C172.1 79.5 173.2 79.0 175.0 78.8C176.8 78.5 179.2 78.3 181.0 78.8C182.8 79.2 184.3 80.4 186.0 81.2C187.7 82.1 189.3 82.3 191.0 83.8C192.7 85.2 194.3 87.7 196.0 90.0C197.7 92.3 199.5 95.7 201.0 97.5C202.5 99.3 203.3 100.5 204.8 100.8C206.2 101.0 207.9 99.8 209.8 99.2C211.6 98.7 213.9 98.6 216.0 97.5C218.1 96.4 220.4 94.2 222.2 92.5C224.1 90.8 225.8 88.5 227.2 87.5C228.7 86.5 229.9 87.5 231.0 86.2C232.1 85.0 233.1 84.0 234.0 80.0C234.9 76.0 235.7 70.4 236.5 62.5C237.3 54.6 238.2 40.6 239.0 32.5C239.8 24.4 240.5 17.6 241.0 13.8C241.5 9.9 241.8 9.5 242.2 9.5C242.7 9.5 243.0 11.2 243.5 13.8C244.0 16.3 244.9 21.5 245.5 25.0C246.1 28.5 246.7 32.1 247.2 35.0C247.8 37.9 248.5 37.5 249.0 42.5C249.5 47.5 250.0 58.3 250.5 65.0C251.0 71.7 251.4 79.0 251.8 82.5C252.1 86.0 252.3 86.5 252.8 86.2C253.2 86.0 253.7 83.5 254.2 81.2C254.8 79.0 255.3 75.6 256.0 72.5C256.7 69.4 257.7 65.2 258.5 62.5C259.3 59.8 260.2 57.7 261.0 56.2C261.8 54.8 262.8 55.2 263.5 53.8C264.2 52.3 264.9 49.0 265.5 47.5C266.1 46.0 266.5 44.8 267.0 45.0C267.5 45.2 268.0 45.4 268.5 48.8C269.0 52.1 269.6 59.4 270.2 65.0C270.9 70.6 271.6 77.3 272.2 82.5C272.9 87.7 273.4 93.0 274.0 96.2C274.6 99.5 275.2 100.9 276.0 102.0C276.8 103.1 277.8 103.5 279.0 103.0C280.2 102.5 281.9 100.7 283.5 98.8C285.1 96.8 286.8 93.4 288.5 91.2C290.2 89.1 292.0 86.9 293.5 85.8C295.0 84.6 296.0 84.3 297.2 84.5C298.5 84.7 299.5 85.5 301.0 87.0C302.5 88.5 304.3 91.8 306.0 93.8C307.7 95.7 309.5 98.3 311.0 98.8C312.5 99.2 313.5 97.9 314.8 96.2C316.0 94.6 317.0 91.0 318.5 88.8C320.0 86.5 321.4 84.0 323.5 82.5C325.6 81.0 328.7 80.1 331.0 80.0C333.3 79.9 335.2 81.4 337.2 82.0C339.3 82.6 341.4 82.9 343.5 83.8C345.6 84.6 347.7 86.8 349.8 87.0C351.8 87.2 354.0 86.0 356.0 85.0C358.0 84.0 360.4 82.4 362.0 81.2C363.6 80.1 364.7 78.7 365.8 78.0C366.8 77.3 367.2 76.7 368.2 77.0C369.3 77.3 370.5 79.2 372.0 80.0C373.5 80.8 375.3 80.7 377.0 81.8C378.7 82.8 380.3 85.0 382.0 86.2C383.7 87.5 385.1 88.5 387.0 89.0C388.9 89.5 391.4 90.0 393.2 89.5C395.1 89.0 396.8 87.8 398.2 86.2C399.7 84.7 400.8 82.7 402.0 80.0C403.2 77.3 404.6 73.1 405.8 70.0C406.9 66.9 408.2 62.9 409.0 61.2C409.8 59.6 410.2 59.8 410.8 60.0C411.3 60.2 411.9 60.4 412.5 62.5C413.1 64.6 413.8 69.4 414.5 72.5C415.2 75.6 416.2 79.4 417.0 81.2C417.8 83.1 418.6 83.2 419.5 83.8C420.4 84.2 422.0 84.2 422.5 84.2" stroke="#0a0a0a" stroke-width="2" fill="none" stroke-linejoin="round" stroke-linecap="round"/>
<path d="M105.5 167.0C106.2 166.8 108.4 166.5 110.0 165.5C111.6 164.5 113.4 163.0 115.0 161.2C116.6 159.5 118.2 156.5 119.5 155.0C120.8 153.5 121.6 152.2 122.5 152.0C123.4 151.8 124.1 152.4 125.0 153.8C125.9 155.1 127.0 158.2 128.0 160.0C129.0 161.8 130.3 163.6 131.2 164.5C132.2 165.4 132.7 165.8 133.8 165.5C134.8 165.2 136.2 164.0 137.5 162.5C138.8 161.0 140.1 158.4 141.2 156.2C142.4 154.1 143.7 150.8 144.5 149.5C145.3 148.2 145.6 148.2 146.2 148.8C146.9 149.2 147.5 150.6 148.2 152.5C149.0 154.4 149.6 158.2 150.5 160.0C151.4 161.8 152.4 162.3 153.8 163.0C155.1 163.7 157.1 164.0 158.8 164.2C160.4 164.5 162.3 164.6 163.8 164.5C165.2 164.4 166.2 163.7 167.5 163.8C168.8 163.8 170.0 164.7 171.2 165.0C172.5 165.3 173.4 165.5 175.0 165.8C176.6 166.0 179.2 166.0 181.0 166.2C182.8 166.5 184.3 167.0 186.0 167.0C187.7 167.0 189.4 166.8 191.0 166.2C192.6 165.7 194.2 165.0 195.5 163.8C196.8 162.5 197.6 160.4 198.5 158.8C199.4 157.1 200.2 154.9 201.0 153.8C201.8 152.6 202.4 151.8 203.0 152.0C203.6 152.2 204.0 153.0 204.8 155.0C205.5 157.0 206.4 161.2 207.2 163.8C208.1 166.2 208.9 168.8 209.8 170.0C210.6 171.2 211.2 171.5 212.2 171.2C213.3 171.0 214.8 170.2 216.0 168.8C217.2 167.3 218.5 164.5 219.8 162.5C221.0 160.5 222.5 157.9 223.5 156.8C224.5 155.6 225.2 155.2 226.0 155.5C226.8 155.8 227.7 157.4 228.5 158.8C229.3 160.1 230.2 162.7 231.0 163.8C231.8 164.8 232.7 165.6 233.5 165.0C234.3 164.4 235.2 161.9 236.0 160.0C236.8 158.1 237.8 155.1 238.5 153.8C239.2 152.4 239.7 152.0 240.2 152.0C240.8 152.0 241.2 154.1 241.8 153.8C242.3 153.4 242.9 152.3 243.5 150.0C244.1 147.7 244.9 142.7 245.5 140.0C246.1 137.3 246.6 134.8 247.0 133.8C247.4 132.7 247.6 132.3 248.0 133.8C248.4 135.2 248.8 137.7 249.2 142.5C249.7 147.3 250.1 156.6 250.5 162.5C250.9 168.4 251.3 175.9 251.8 178.0C252.2 180.1 252.6 178.0 253.0 175.0C253.4 172.0 253.8 164.4 254.2 160.0C254.7 155.6 255.1 151.2 255.5 148.8C255.9 146.2 256.3 145.2 256.8 145.0C257.2 144.8 257.5 145.8 258.0 147.5C258.5 149.2 259.2 152.7 259.8 155.0C260.3 157.3 260.9 160.0 261.5 161.2C262.1 162.5 262.9 163.3 263.5 162.5C264.1 161.7 264.7 158.1 265.2 156.2C265.8 154.4 266.3 152.1 266.8 151.2C267.2 150.4 267.6 150.2 268.0 151.2C268.4 152.3 268.8 154.8 269.2 157.5C269.8 160.2 270.3 165.1 271.0 167.5C271.7 169.9 272.5 171.4 273.5 172.0C274.5 172.6 276.0 171.9 277.2 171.2C278.5 170.6 279.5 169.0 281.0 168.0C282.5 167.0 284.3 165.8 286.0 165.5C287.7 165.2 289.3 165.7 291.0 166.2C292.7 166.8 294.3 168.2 296.0 168.8C297.7 169.3 299.5 169.9 301.0 169.5C302.5 169.1 303.7 167.3 304.8 166.2C305.8 165.2 306.5 163.5 307.2 163.0C308.0 162.5 308.4 162.3 309.2 163.0C310.1 163.7 311.1 165.8 312.2 167.0C313.4 168.2 314.8 169.7 316.0 170.0C317.2 170.3 318.6 169.2 319.8 168.8C320.9 168.2 322.0 167.0 323.0 167.0C324.0 167.0 325.1 168.2 326.0 168.8C326.9 169.2 327.5 170.2 328.5 170.0C329.5 169.8 331.0 168.3 332.2 167.5C333.5 166.7 334.8 165.3 336.0 165.0C337.2 164.7 338.5 165.6 339.8 165.5C341.0 165.4 342.2 165.3 343.5 164.5C344.8 163.7 346.0 162.0 347.2 160.5C348.5 159.0 349.8 156.8 351.0 155.5C352.2 154.2 353.5 153.1 354.8 152.5C356.0 151.9 357.3 152.2 358.5 151.8C359.7 151.3 360.9 150.4 362.0 150.0C363.1 149.6 364.0 149.1 365.0 149.5C366.0 149.9 367.1 151.2 368.2 152.5C369.4 153.8 370.8 156.2 372.0 157.5C373.2 158.8 374.5 159.9 375.8 160.5C377.0 161.1 378.2 160.8 379.5 161.2C380.8 161.7 382.0 162.0 383.2 163.0C384.5 164.0 385.8 165.8 387.0 167.0C388.2 168.2 389.5 169.6 390.8 170.5C392.0 171.4 393.2 172.4 394.5 172.5C395.8 172.6 397.0 172.3 398.2 171.2C399.5 170.2 400.8 168.3 402.0 166.2C403.2 164.2 404.7 160.8 405.8 158.8C406.8 156.7 407.5 156.2 408.2 153.8C409.0 151.2 409.7 145.8 410.2 143.8C410.8 141.7 411.1 141.0 411.5 141.2C411.9 141.5 412.3 142.3 412.8 145.0C413.2 147.7 413.5 153.3 414.0 157.5C414.5 161.7 415.0 166.8 415.5 170.0C416.0 173.2 416.5 175.8 417.0 177.0C417.5 178.2 417.9 177.7 418.5 177.0C419.1 176.3 420.1 174.0 420.8 173.0C421.4 172.0 422.2 171.5 422.5 171.2" stroke="#2A2F8F" stroke-width="2" fill="none" stroke-linejoin="round" stroke-linecap="round"/>
<path d="M105.5 142.0C106.2 141.9 108.4 142.2 110.0 141.2C111.6 140.3 113.4 138.5 115.0 136.2C116.6 134.0 118.2 129.6 119.5 127.5C120.8 125.4 121.9 124.0 123.0 123.8C124.1 123.5 125.1 124.8 126.2 126.2C127.4 127.7 128.8 130.9 130.0 132.5C131.2 134.1 132.5 135.4 133.8 135.8C135.0 136.1 136.1 135.7 137.5 134.5C138.9 133.3 140.8 130.5 142.0 128.8C143.2 127.0 144.2 124.6 145.0 123.8C145.8 122.9 146.3 122.7 147.0 123.8C147.7 124.8 148.3 127.9 149.2 130.0C150.2 132.1 151.3 134.9 152.5 136.2C153.7 137.6 154.8 138.2 156.2 138.0C157.7 137.8 159.6 136.3 161.2 135.0C162.9 133.7 164.8 131.0 166.2 130.0C167.7 129.0 168.8 128.8 170.0 128.8C171.2 128.8 172.5 129.2 173.8 130.0C175.0 130.8 176.3 132.7 177.5 133.8C178.7 134.8 179.6 135.0 181.0 136.2C182.4 137.5 184.3 139.9 186.0 141.2C187.7 142.6 189.4 143.8 191.0 144.2C192.6 144.8 194.2 145.0 195.5 144.2C196.8 143.5 197.6 141.8 198.5 140.0C199.4 138.2 200.2 135.2 201.0 133.8C201.8 132.3 202.4 131.2 203.0 131.2C203.6 131.3 204.0 132.4 204.8 134.2C205.5 136.1 206.3 140.4 207.2 142.5C208.2 144.6 209.2 146.6 210.5 147.0C211.8 147.4 213.2 146.4 214.8 145.0C216.3 143.6 218.3 140.6 219.8 138.8C221.2 136.9 222.5 134.9 223.5 133.8C224.5 132.6 225.1 131.9 226.0 132.0C226.9 132.1 228.0 133.9 229.0 134.5C230.0 135.1 230.8 136.2 231.8 135.5C232.7 134.8 233.7 133.2 234.8 130.0C235.8 126.8 237.0 119.6 238.0 116.2C239.0 112.9 239.7 111.2 240.5 110.0C241.3 108.8 242.0 110.4 242.8 108.8C243.5 107.1 244.1 103.5 244.8 100.0C245.4 96.5 246.0 90.1 246.5 87.5C247.0 84.9 247.5 83.7 248.0 84.5C248.5 85.3 248.8 87.8 249.2 92.5C249.7 97.2 250.2 106.9 250.8 112.5C251.2 118.1 251.8 124.0 252.2 126.2C252.7 128.5 252.9 128.1 253.2 126.2C253.6 124.4 254.0 119.0 254.5 115.0C255.0 111.0 255.5 105.2 256.0 102.5C256.5 99.8 256.8 98.8 257.2 98.8C257.7 98.8 258.2 99.8 258.8 102.5C259.3 105.2 259.9 111.0 260.5 115.0C261.1 119.0 261.7 124.0 262.2 126.2C262.8 128.5 263.5 129.0 264.0 128.8C264.5 128.5 265.0 126.0 265.5 125.0C266.0 124.0 266.8 122.3 267.2 122.5C267.8 122.7 268.0 123.1 268.5 126.2C269.0 129.4 269.6 137.4 270.2 141.2C270.9 145.1 271.5 147.7 272.2 149.5C273.0 151.3 273.7 151.7 274.8 152.0C275.8 152.3 277.0 151.9 278.5 151.2C280.0 150.6 281.8 148.8 283.5 148.0C285.2 147.2 286.6 146.5 288.5 146.2C290.4 146.0 292.7 146.5 294.8 146.2C296.8 146.0 299.3 145.8 301.0 145.0C302.7 144.2 303.7 142.2 304.8 141.2C305.8 140.3 306.4 139.4 307.2 139.2C308.1 139.1 308.9 139.8 309.8 140.5C310.6 141.2 311.4 142.8 312.2 143.8C313.1 144.7 313.7 146.0 314.8 146.2C315.8 146.5 317.2 146.1 318.5 145.5C319.8 144.9 321.0 143.3 322.2 142.5C323.5 141.7 324.8 141.6 326.0 140.8C327.2 139.9 328.5 138.7 329.8 137.5C331.0 136.3 332.2 135.0 333.5 133.8C334.8 132.5 336.0 130.7 337.2 130.0C338.5 129.3 340.0 129.4 341.0 129.5C342.0 129.6 342.6 130.7 343.5 130.8C344.4 130.8 345.5 130.8 346.5 130.0C347.5 129.2 348.8 127.3 349.8 126.2C350.7 125.2 351.4 124.0 352.2 123.8C353.1 123.5 353.9 124.4 354.8 125.0C355.6 125.6 356.4 126.9 357.2 127.5C358.1 128.1 359.0 128.4 359.8 128.8C360.5 129.1 361.0 129.6 362.0 129.5C363.0 129.4 364.5 127.9 365.8 128.0C367.0 128.1 368.0 129.0 369.5 130.0C371.0 131.0 372.8 133.0 374.5 133.8C376.2 134.5 377.8 134.0 379.5 134.2C381.2 134.5 383.0 134.8 384.5 135.5C386.0 136.2 387.0 137.7 388.2 138.8C389.5 139.8 390.8 141.2 392.0 142.0C393.2 142.8 394.6 143.2 395.8 143.2C396.9 143.3 398.0 143.2 399.0 142.5C400.0 141.8 400.9 140.2 402.0 138.8C403.1 137.3 404.7 135.4 405.8 133.8C406.8 132.1 407.5 131.0 408.2 128.8C409.0 126.5 409.5 121.9 410.0 120.0C410.5 118.1 411.0 117.1 411.5 117.5C412.0 117.9 412.3 119.2 412.8 122.5C413.2 125.8 413.5 132.9 414.0 137.5C414.5 142.1 415.0 147.6 415.5 150.0C416.0 152.4 416.4 151.9 417.0 152.0C417.6 152.1 418.4 151.2 419.0 150.8C419.6 150.3 420.2 149.7 420.8 149.2C421.3 148.8 422.2 148.4 422.5 148.2" stroke="#0B9E49" stroke-width="2" fill="none" stroke-linejoin="round" stroke-linecap="round"/>
<path d="M105.5 116.8C106.2 116.9 108.4 118.0 110.0 117.5C111.6 117.0 113.3 115.8 115.0 113.8C116.7 111.7 118.5 107.2 120.0 105.0C121.5 102.8 122.6 101.2 123.8 100.8C124.9 100.3 125.8 101.3 127.0 102.5C128.2 103.7 129.9 106.9 131.2 108.0C132.6 109.1 133.6 109.8 135.0 109.2C136.4 108.8 138.2 106.9 139.5 105.0C140.8 103.1 142.0 99.7 143.0 98.0C144.0 96.3 144.9 95.0 145.8 95.0C146.6 95.0 147.2 95.9 148.0 98.0C148.8 100.1 149.7 104.8 150.8 107.5C151.8 110.2 153.2 112.8 154.5 114.2C155.8 115.7 157.4 116.3 158.8 116.2C160.1 116.2 161.1 115.6 162.5 113.8C163.9 111.9 165.5 107.5 167.0 105.0C168.5 102.5 169.9 100.1 171.2 98.8C172.6 97.4 173.8 97.0 175.0 97.0C176.2 97.0 177.8 98.2 178.8 98.8C179.8 99.3 180.0 99.0 181.0 100.5C182.0 102.0 183.3 104.7 184.8 107.5C186.2 110.3 188.1 114.8 189.8 117.5C191.4 120.2 193.5 122.6 194.8 123.8C196.0 124.9 196.4 124.9 197.2 124.2C198.1 123.6 199.0 121.8 199.8 120.0C200.5 118.2 201.1 115.1 201.8 113.8C202.4 112.4 202.9 111.8 203.5 112.0C204.1 112.2 204.5 113.5 205.2 115.0C206.0 116.5 207.0 119.8 208.0 121.2C209.0 122.7 209.7 123.7 211.0 123.8C212.3 123.8 214.3 123.0 216.0 121.8C217.7 120.5 219.5 118.0 221.0 116.2C222.5 114.5 223.7 112.2 224.8 111.2C225.8 110.3 226.4 110.3 227.2 110.5C228.1 110.7 228.9 112.1 229.8 112.5C230.6 112.9 231.4 113.6 232.2 113.0C233.1 112.4 234.0 110.4 234.8 108.8C235.5 107.1 235.9 106.1 236.5 103.0C237.1 99.9 237.8 92.8 238.5 90.0C239.2 87.2 239.9 86.7 240.5 86.2C241.1 85.8 241.7 88.5 242.2 87.5C242.8 86.5 243.4 85.0 244.0 80.0C244.6 75.0 245.4 63.8 246.0 57.5C246.6 51.2 247.2 45.2 247.8 42.5C248.2 39.8 248.6 40.6 249.0 41.2C249.4 41.9 249.8 42.3 250.2 46.2C250.7 50.2 251.3 60.2 251.8 65.0C252.2 69.8 252.6 73.1 253.0 75.0C253.4 76.9 253.6 77.1 254.0 76.2C254.4 75.4 254.8 71.4 255.2 70.0C255.7 68.6 256.0 67.6 256.5 68.0C257.0 68.4 257.4 69.7 258.0 72.5C258.6 75.3 259.3 80.6 260.0 85.0C260.7 89.4 261.6 96.5 262.2 99.0C262.9 101.5 263.4 100.8 264.0 100.0C264.6 99.2 265.5 95.2 266.0 94.5C266.5 93.8 266.8 94.7 267.2 96.0C267.7 97.3 268.0 98.9 268.5 102.5C269.0 106.1 269.8 113.3 270.5 117.5C271.2 121.7 272.2 125.3 273.0 127.5C273.8 129.7 274.2 130.6 275.5 130.5C276.8 130.4 279.2 128.1 281.0 127.0C282.8 125.9 283.9 124.5 286.0 123.8C288.1 123.0 291.2 122.9 293.5 122.5C295.8 122.1 298.1 122.0 299.8 121.2C301.4 120.5 302.5 118.8 303.5 118.0C304.5 117.2 305.2 116.3 306.0 116.2C306.8 116.2 307.7 116.7 308.5 117.5C309.3 118.3 310.2 120.3 311.0 121.2C311.8 122.2 312.5 123.5 313.5 123.2C314.5 123.0 316.0 121.6 317.2 120.0C318.5 118.4 319.8 115.8 321.0 113.8C322.2 111.7 323.5 109.0 324.8 107.5C326.0 106.0 327.5 106.0 328.5 105.0C329.5 104.0 330.1 102.7 331.0 101.2C331.9 99.8 333.2 97.4 334.0 96.2C334.8 95.1 335.2 94.4 336.0 94.5C336.8 94.6 337.5 95.5 338.5 97.0C339.5 98.5 341.0 101.6 342.2 103.8C343.5 105.9 345.0 108.8 346.0 110.0C347.0 111.2 347.7 111.6 348.5 111.2C349.3 110.9 350.2 108.8 351.0 108.0C351.8 107.2 352.3 106.6 353.0 106.8C353.7 106.9 354.5 108.2 355.2 108.8C356.0 109.3 356.5 109.9 357.2 110.0C358.0 110.1 359.0 109.7 359.8 109.2C360.5 108.8 361.1 108.4 362.0 107.5C362.9 106.6 364.1 104.5 365.0 103.8C365.9 103.0 366.5 102.6 367.5 103.0C368.5 103.4 369.6 105.5 370.8 106.2C371.9 107.0 373.2 107.6 374.5 107.5C375.8 107.4 377.0 106.0 378.2 105.8C379.5 105.5 380.8 105.6 382.0 106.2C383.2 106.9 384.5 108.0 385.8 109.5C387.0 111.0 388.2 113.3 389.5 115.0C390.8 116.7 392.0 118.4 393.2 119.5C394.5 120.6 396.0 121.5 397.0 121.8C398.0 122.0 398.5 122.0 399.5 121.2C400.5 120.5 402.0 119.0 403.2 117.5C404.5 116.0 406.0 114.2 407.0 112.5C408.0 110.8 408.8 108.9 409.5 107.5C410.2 106.1 410.7 104.5 411.2 104.2C411.8 104.0 412.2 104.5 412.8 106.2C413.3 108.0 413.9 112.7 414.5 115.0C415.1 117.3 415.9 119.3 416.5 120.0C417.1 120.7 417.7 119.8 418.2 119.2C418.8 118.8 419.4 117.4 420.0 117.0C420.6 116.6 421.7 116.8 422.0 116.8" stroke="#E8212B" stroke-width="2" fill="none" stroke-linejoin="round" stroke-linecap="round"/>
<path d="M116 25.4H109.3V49.8H116" stroke="#111" stroke-width="1.9" fill="none"/>
<rect x="485.3" y="285.8" width="213.5" height="10.6" fill="url(#cb)"/>
<path d="M485.3 285.8V300.8M499.5 285.8V300.8M513.8 285.8V300.8M528.0 285.8V300.8M542.2 285.8V300.8M556.5 285.8V300.8M570.7 285.8V300.8M584.9 285.8V300.8M599.2 285.8V300.8M613.4 285.8V300.8M627.6 285.8V300.8M641.9 285.8V300.8M656.1 285.8V300.8M670.3 285.8V300.8M684.6 285.8V300.8M698.8 285.8V300.8" stroke="#222" stroke-width="0.7" fill="none"/>
<path d="M496.8 281.2V285.8M518.5 281.2V285.8M540.2 281.2V285.8M562.0 281.2V285.8M583.8 281.2V285.8M605.5 281.2V285.8M627.2 281.2V285.8M649.0 281.2V285.8M670.8 281.2V285.8M692.5 281.2V285.8" stroke="#555" stroke-width="0.7" fill="none"/>
</svg>
<div class="t" id="nT" style="font-size:15.40px;left:104.60px;transform:scaleX(1.060);transform-origin:0 50%;top:-1.85px">nT</div>
<div class="t" id="k1000" style="font-size:15.40px;letter-spacing:-0.50px;left:119.80px;transform:scaleX(1.060);transform-origin:0 50%;top:15.95px">1,000</div>
<div class="t" id="k0" style="font-size:15.40px;left:120.80px;transform:scaleX(1.060);transform-origin:0 50%;top:40.75px">0</div>
<div class="t" id="obs" style="font-size:15.75px;left:30.10px;transform:scaleX(1.060);transform-origin:0 50%;top:52.75px">Observed</div>
<div class="t" id="const" style="font-size:15.75px;left:28.95px;transform:scaleX(1.060);transform-origin:0 50%;top:96.75px">Constant</div>
<div class="t" id="thick" style="font-size:15.75px;left:29.50px;transform:scaleX(1.060);transform-origin:0 50%;top:110.95px">thickness</div>
<div class="t" id="p20" style="font-size:15.75px;left:1.05px;transform:scaleX(1.060);transform-origin:0 50%;top:132.85px">20% Off-axis</div>
<div class="t" id="p50" style="font-size:15.75px;left:0.60px;transform:scaleX(1.060);transform-origin:0 50%;top:157.05px">50% Off-axis</div>
<div class="t" id="lat" style="font-size:15.75px;left:358.40px;transform:scaleX(1.060);transform-origin:0 50%;top:6.75px">19.75°S</div>
<div class="t" id="of20" style="font-size:15.75px;left:317.60px;transform:scaleX(1.060);transform-origin:0 50%;top:190.45px">Off-axis flows 20%</div>
<div class="t" id="of50" style="font-size:15.75px;left:317.60px;transform:scaleX(1.060);transform-origin:0 50%;top:290.45px">Off-axis flows 50%</div>
<div class="t" id="d1" style="left:-32.10px;top:230.05px;width:120px;text-align:center;font-size:15.75px;transform:rotate(-90deg) scaleX(1.060);transform-origin:50% 50%">Depth (km)</div>
<div class="t" id="d2" style="left:-31.90px;top:333.15px;width:120px;text-align:center;font-size:15.75px;transform:rotate(-90deg) scaleX(1.060);transform-origin:50% 50%">Depth (km)</div>
<div class="t" id="y0_0" style="font-size:15.75px;left:-5.80px;width:80px;text-align:right;transform:scaleX(1.060);transform-origin:100% 50%;top:199.65px">0</div>
<div class="t" id="y0_1" style="font-size:15.75px;left:-5.55px;width:80px;text-align:right;transform:scaleX(1.060);transform-origin:100% 50%;top:215.93px">–0.2</div>
<div class="t" id="y0_2" style="font-size:15.75px;left:-5.55px;width:80px;text-align:right;transform:scaleX(1.060);transform-origin:100% 50%;top:231.70px">–0.4</div>
<div class="t" id="y0_3" style="font-size:15.75px;left:-5.80px;width:80px;text-align:right;transform:scaleX(1.060);transform-origin:100% 50%;top:247.97px">–0.6</div>
<div class="t" id="y0_4" style="font-size:15.75px;left:-5.80px;width:80px;text-align:right;transform:scaleX(1.060);transform-origin:100% 50%;top:263.75px">–0.8</div>
<div class="t" id="y1_0" style="font-size:15.75px;left:-5.80px;width:80px;text-align:right;transform:scaleX(1.060);transform-origin:100% 50%;top:300.15px">0</div>
<div class="t" id="y1_1" style="font-size:15.75px;left:-5.55px;width:80px;text-align:right;transform:scaleX(1.060);transform-origin:100% 50%;top:315.62px">–0.2</div>
<div class="t" id="y1_2" style="font-size:15.75px;left:-5.55px;width:80px;text-align:right;transform:scaleX(1.060);transform-origin:100% 50%;top:332.10px">–0.4</div>
<div class="t" id="y1_3" style="font-size:15.75px;left:-5.80px;width:80px;text-align:right;transform:scaleX(1.060);transform-origin:100% 50%;top:347.58px">–0.6</div>
<div class="t" id="y1_4" style="font-size:15.75px;left:-5.80px;width:80px;text-align:right;transform:scaleX(1.060);transform-origin:100% 50%;top:364.05px">–0.8</div>
<div class="t" id="x0" style="font-size:15.75px;letter-spacing:-0.40px;left:51.33px;width:60px;text-align:center;transform:scaleX(1.060);transform-origin:50% 50%;top:383.85px">–8</div>
<div class="t" id="x1" style="font-size:15.75px;letter-spacing:-0.40px;left:72.88px;width:60px;text-align:center;transform:scaleX(1.060);transform-origin:50% 50%;top:383.85px">–7</div>
<div class="t" id="x2" style="font-size:15.75px;letter-spacing:-0.40px;left:94.43px;width:60px;text-align:center;transform:scaleX(1.060);transform-origin:50% 50%;top:383.85px">–6</div>
<div class="t" id="x3" style="font-size:15.75px;letter-spacing:-0.40px;left:115.48px;width:60px;text-align:center;transform:scaleX(1.060);transform-origin:50% 50%;top:383.85px">–5</div>
<div class="t" id="x4" style="font-size:15.75px;letter-spacing:-0.40px;left:136.90px;width:60px;text-align:center;transform:scaleX(1.060);transform-origin:50% 50%;top:383.85px">–4</div>
<div class="t" id="x5" style="font-size:15.75px;letter-spacing:-0.40px;left:158.08px;width:60px;text-align:center;transform:scaleX(1.060);transform-origin:50% 50%;top:383.85px">–3</div>
<div class="t" id="x6" style="font-size:15.75px;letter-spacing:-0.40px;left:179.13px;width:60px;text-align:center;transform:scaleX(1.060);transform-origin:50% 50%;top:383.85px">–2</div>
<div class="t" id="x7" style="font-size:15.75px;letter-spacing:-0.40px;left:200.68px;width:60px;text-align:center;transform:scaleX(1.060);transform-origin:50% 50%;top:383.85px">–1</div>
<div class="t" id="x8" style="font-size:15.75px;left:223.80px;width:60px;text-align:center;transform:scaleX(1.060);transform-origin:50% 50%;top:383.85px">0</div>
<div class="t" id="x9" style="font-size:15.75px;left:244.60px;width:60px;text-align:center;transform:scaleX(1.060);transform-origin:50% 50%;top:383.85px">1</div>
<div class="t" id="x10" style="font-size:15.75px;left:266.40px;width:60px;text-align:center;transform:scaleX(1.060);transform-origin:50% 50%;top:383.85px">2</div>
<div class="t" id="x11" style="font-size:15.75px;left:287.57px;width:60px;text-align:center;transform:scaleX(1.060);transform-origin:50% 50%;top:383.85px">3</div>
<div class="t" id="x12" style="font-size:15.75px;left:309.62px;width:60px;text-align:center;transform:scaleX(1.060);transform-origin:50% 50%;top:383.85px">4</div>
<div class="t" id="x13" style="font-size:15.75px;left:330.05px;width:60px;text-align:center;transform:scaleX(1.060);transform-origin:50% 50%;top:383.85px">5</div>
<div class="t" id="x14" style="font-size:15.75px;left:351.60px;width:60px;text-align:center;transform:scaleX(1.060);transform-origin:50% 50%;top:383.85px">6</div>
<div class="t" id="x15" style="font-size:15.75px;left:373.15px;width:60px;text-align:center;transform:scaleX(1.060);transform-origin:50% 50%;top:383.85px">7</div>
<div class="t" id="x16" style="font-size:15.75px;left:394.20px;width:60px;text-align:center;transform:scaleX(1.060);transform-origin:50% 50%;top:383.85px">8</div>
<div class="t" id="dist" style="font-size:15.75px;left:209.55px;transform:scaleX(1.060);transform-origin:0 50%;top:401.10px">Distance (km)</div>
<div class="t" id="mag" style="font-size:15.75px;left:525.25px;transform:scaleX(1.060);transform-origin:0 50%;top:239.80px">Magnetization (Am<span style="font-size:9.5px;position:relative;top:-6.5px;letter-spacing:0">-1</span>)</div>
<div class="t" id="m10" style="font-size:15.75px;left:487.15px;width:60px;text-align:center;transform:scaleX(1.060);transform-origin:50% 50%;top:260.75px">10</div>
<div class="t" id="m20" style="font-size:15.75px;left:532.00px;width:60px;text-align:center;transform:scaleX(1.060);transform-origin:50% 50%;top:260.75px">20</div>
<div class="t" id="m30" style="font-size:15.75px;left:576.40px;width:60px;text-align:center;transform:scaleX(1.060);transform-origin:50% 50%;top:260.75px">30</div>
<div class="t" id="m40" style="font-size:15.75px;left:618.73px;width:60px;text-align:center;transform:scaleX(1.060);transform-origin:50% 50%;top:260.75px">40</div>
<div class="t" id="m50" style="font-size:15.75px;left:662.50px;width:60px;text-align:center;transform:scaleX(1.060);transform-origin:50% 50%;top:260.75px">50</div>
<div class="t" id="n2" style="font-size:15.75px;left:470.32px;width:60px;text-align:center;transform:scaleX(1.060);transform-origin:50% 50%;top:301.65px">0.2</div>
<div class="t" id="n4" style="font-size:15.75px;left:499.90px;width:60px;text-align:center;transform:scaleX(1.060);transform-origin:50% 50%;top:301.65px">0.4</div>
<div class="t" id="n6" style="font-size:15.75px;left:527.73px;width:60px;text-align:center;transform:scaleX(1.060);transform-origin:50% 50%;top:301.65px">0.6</div>
<div class="t" id="n8" style="font-size:15.75px;left:556.43px;width:60px;text-align:center;transform:scaleX(1.060);transform-origin:50% 50%;top:301.65px">0.8</div>
<div class="t" id="n10" style="font-size:15.75px;left:585.93px;width:60px;text-align:center;transform:scaleX(1.060);transform-origin:50% 50%;top:301.65px">1.0</div>
<div class="t" id="n12" style="font-size:15.75px;left:613.25px;width:60px;text-align:center;transform:scaleX(1.060);transform-origin:50% 50%;top:301.65px">1.2</div>
<div class="t" id="n14" style="font-size:15.75px;left:642.02px;width:60px;text-align:center;transform:scaleX(1.060);transform-origin:50% 50%;top:301.65px">1.4</div>
<div class="t" id="n16" style="font-size:15.75px;left:670.65px;width:60px;text-align:center;transform:scaleX(1.060);transform-origin:50% 50%;top:302.85px">1.6</div>
<div class="t" id="norm" style="font-size:15.75px;left:471.35px;transform:scaleX(1.060);transform-origin:0 50%;top:331.90px">Normalized geomagnetic intensity</div>

</body></html>
